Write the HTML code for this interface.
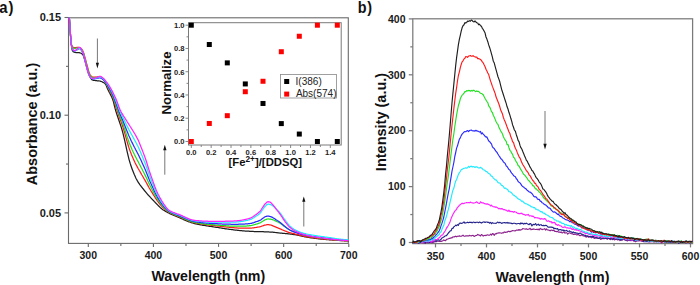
<!DOCTYPE html>
<html><head><meta charset="utf-8"><style>
html,body{margin:0;padding:0;background:#fff;width:700px;height:285px;overflow:hidden}
svg{display:block}
</style></head><body>
<svg width="700" height="285" viewBox="0 0 700 285">
<g stroke="#6a6a6a" stroke-width="1.1" fill="none">
<rect x="68.5" y="17.8" width="279.8" height="225.6"/>
<line x1="88.30" y1="243.4" x2="88.30" y2="246.9"/>
<line x1="153.42" y1="243.4" x2="153.42" y2="246.9"/>
<line x1="218.54" y1="243.4" x2="218.54" y2="246.9"/>
<line x1="283.66" y1="243.4" x2="283.66" y2="246.9"/>
<line x1="348.78" y1="243.4" x2="348.78" y2="246.9"/>
<line x1="120.86" y1="243.4" x2="120.86" y2="245.9"/>
<line x1="185.98" y1="243.4" x2="185.98" y2="245.9"/>
<line x1="251.10" y1="243.4" x2="251.10" y2="245.9"/>
<line x1="316.22" y1="243.4" x2="316.22" y2="245.9"/>
<line x1="64.5" y1="212.90" x2="68.5" y2="212.90"/>
<line x1="64.5" y1="115.20" x2="68.5" y2="115.20"/>
<line x1="64.5" y1="17.50" x2="68.5" y2="17.50"/>
<line x1="66.0" y1="164.05" x2="68.5" y2="164.05"/>
<line x1="66.0" y1="66.35" x2="68.5" y2="66.35"/>
</g>
<g font-family="&quot;Liberation Sans&quot;, sans-serif" font-weight="bold" font-size="10.5" fill="#1a1a1a" text-anchor="middle">
<text x="88.30" y="258.5">300</text>
<text x="153.42" y="258.5">400</text>
<text x="218.54" y="258.5">500</text>
<text x="283.66" y="258.5">600</text>
<text x="348.78" y="258.5">700</text>
</g>
<g font-family="&quot;Liberation Sans&quot;, sans-serif" font-weight="bold" font-size="11" fill="#1a1a1a" text-anchor="end">
<text x="61.1" y="216.70">0.05</text>
<text x="61.1" y="119.00">0.10</text>
<text x="61.1" y="21.30">0.15</text>
</g>
<text font-family="&quot;Liberation Sans&quot;, sans-serif" font-weight="bold" font-size="14.2" fill="#111" x="208.3" y="280.5" text-anchor="middle">Wavelength (nm)</text>
<text font-family="&quot;Liberation Sans&quot;, sans-serif" font-weight="bold" font-size="14.5" fill="#111" transform="translate(37,124) rotate(-90)" text-anchor="middle">Absorbance (a.u.)</text>
<text font-family="&quot;Liberation Sans&quot;, sans-serif" font-weight="bold" font-size="16" fill="#111" transform="translate(-0.7,13.0) scale(0.93,1.08)" letter-spacing="0.9">a)</text>
<text font-family="&quot;Liberation Sans&quot;, sans-serif" font-weight="bold" font-size="15.5" fill="#111" transform="translate(357.8,13.3) scale(0.93,1.05)" letter-spacing="0.6">b)</text>
<g fill="none" stroke-width="1.25" stroke-linejoin="round">
<path stroke="#1e1e1e" d="M69.3 17.5L69.5 19.8L69.6 22.0L69.8 24.3L69.9 26.5L70.1 28.8L70.2 31.0L70.4 33.2L70.5 35.5L70.7 37.7L70.8 39.7L71.0 41.5L71.1 42.9L71.3 44.2L71.4 45.3L71.6 46.3L71.7 47.3L71.9 48.3L72.0 49.2L72.2 49.9L72.3 50.3L72.5 50.6L72.6 50.8L72.8 51.0L72.9 51.3L73.1 51.4L73.2 51.6L73.4 51.7L73.5 51.8L73.7 51.9L73.8 52.0L74.0 52.1L74.1 52.1L74.3 52.2L74.4 52.2L74.6 52.3L74.7 52.3L74.9 52.3L75.0 52.4L75.0 52.4L75.6 52.5L76.2 52.5L76.8 52.5L77.4 52.5L78.0 52.6L78.6 52.6L79.2 52.6L79.8 52.8L80.4 53.0L81.0 53.3L81.6 53.6L82.2 54.1L82.8 54.7L83.4 55.8L84.0 57.5L84.6 59.6L85.2 61.7L85.8 63.7L86.4 65.9L87.0 68.0L87.6 70.1L88.2 72.2L88.8 74.0L89.4 75.4L90.0 76.7L90.6 77.9L91.2 78.9L91.8 79.6L92.4 79.9L93.0 80.1L93.6 80.3L94.2 80.4L94.8 80.5L95.4 80.6L96.0 80.6L96.6 80.7L97.2 80.8L97.8 80.8L98.4 80.9L99.0 80.9L99.6 81.0L100.2 81.1L100.8 81.3L101.4 81.5L102.0 81.8L102.6 82.1L103.2 82.4L103.8 82.7L104.4 83.0L105.0 83.5L105.6 84.3L106.2 85.5L106.8 86.9L107.4 88.4L108.0 89.8L108.6 91.0L109.2 92.2L109.8 93.3L110.4 94.4L111.0 95.6L111.6 96.8L112.2 98.2L112.8 99.7L113.4 101.6L114.0 104.0L114.6 106.5L115.2 108.9L115.8 111.0L116.4 112.9L117.0 114.7L117.6 116.5L118.2 118.2L118.8 120.0L119.4 121.8L120.0 123.5L120.6 125.3L121.2 127.1L121.8 129.0L122.4 131.1L123.0 133.4L123.6 135.8L124.2 138.3L124.8 140.9L125.4 143.6L126.0 146.4L126.6 149.1L127.2 151.8L127.8 154.4L128.4 156.9L129.0 159.3L129.6 161.4L130.2 163.4L130.8 165.2L131.4 167.0L132.0 168.7L132.6 170.3L133.2 171.8L133.8 173.3L134.4 174.8L135.0 176.1L135.6 177.5L136.2 178.7L136.8 179.8L137.4 180.9L138.0 181.9L138.6 182.8L139.2 183.7L139.8 184.6L140.4 185.4L141.0 186.2L141.6 187.0L142.2 187.7L142.8 188.5L143.4 189.2L144.0 190.0L144.6 190.7L145.2 191.5L145.8 192.2L146.4 192.9L147.0 193.6L147.6 194.3L148.2 195.0L148.8 195.6L149.4 196.3L150.0 196.9L150.6 197.6L151.2 198.2L151.8 198.9L152.4 199.5L153.0 200.1L153.6 200.7L154.2 201.4L154.8 202.0L155.4 202.6L156.0 203.3L156.6 203.9L157.2 204.5L157.8 205.1L158.4 205.7L159.0 206.3L159.6 206.9L160.2 207.5L160.8 208.0L161.4 208.5L162.0 209.0L162.6 209.4L163.2 209.9L163.8 210.3L164.4 210.6L165.0 211.0L165.6 211.4L166.2 211.7L166.8 212.0L167.4 212.4L168.0 212.7L168.6 213.0L169.2 213.3L169.8 213.6L170.4 213.9L171.0 214.2L171.6 214.4L172.2 214.7L172.8 215.0L173.4 215.2L174.0 215.5L174.6 215.7L175.2 216.0L175.8 216.2L176.4 216.5L177.0 216.7L177.6 217.0L178.2 217.2L178.8 217.5L179.4 217.7L180.0 218.0L180.6 218.3L181.2 218.5L181.8 218.8L182.4 219.0L183.0 219.3L183.6 219.6L184.2 219.8L184.8 220.1L185.4 220.3L186.0 220.6L186.6 220.8L187.2 221.1L187.8 221.3L188.4 221.6L189.0 221.8L189.6 222.0L190.2 222.2L190.8 222.4L191.4 222.7L192.0 222.9L192.6 223.0L193.2 223.2L193.8 223.4L194.4 223.6L195.0 223.7L195.6 223.8L196.2 224.0L196.8 224.1L197.4 224.2L198.0 224.4L198.6 224.5L199.2 224.6L199.8 224.7L200.4 224.8L201.0 224.9L201.6 225.0L202.2 225.2L202.8 225.3L203.4 225.4L204.0 225.4L204.6 225.5L205.2 225.6L205.8 225.7L206.4 225.8L207.0 225.9L207.6 226.0L208.2 226.1L208.8 226.2L209.4 226.3L210.0 226.4L210.6 226.4L211.2 226.5L211.8 226.6L212.4 226.7L213.0 226.8L213.6 226.9L214.2 227.0L214.8 227.1L215.4 227.2L216.0 227.3L216.6 227.4L217.2 227.4L217.8 227.5L218.4 227.6L219.0 227.7L219.6 227.8L220.2 227.9L220.8 228.0L221.4 228.1L222.0 228.2L222.6 228.3L223.2 228.4L223.8 228.5L224.4 228.6L225.0 228.7L225.6 228.8L226.2 228.9L226.8 228.9L227.4 229.0L228.0 229.1L228.6 229.2L229.2 229.3L229.8 229.4L230.4 229.4L231.0 229.5L231.6 229.6L232.2 229.7L232.8 229.7L233.4 229.8L234.0 229.9L234.6 230.0L235.2 230.0L235.8 230.1L236.4 230.1L237.0 230.2L237.6 230.3L238.2 230.3L238.8 230.4L239.4 230.5L240.0 230.5L240.6 230.6L241.2 230.6L241.8 230.7L242.4 230.8L243.0 230.8L243.6 230.9L244.2 230.9L244.8 231.0L245.4 231.0L246.0 231.1L246.6 231.1L247.2 231.1L247.8 231.2L248.4 231.2L249.0 231.2L249.6 231.3L250.2 231.3L250.8 231.3L251.4 231.4L252.0 231.4L252.6 231.4L253.2 231.4L253.8 231.5L254.4 231.5L255.0 231.5L255.6 231.5L256.2 231.5L256.8 231.6L257.4 231.6L258.0 231.6L258.6 231.6L259.2 231.6L259.8 231.6L260.4 231.7L261.0 231.7L261.6 231.7L262.2 231.7L262.8 231.7L263.4 231.7L264.0 231.8L264.6 231.8L265.2 231.8L265.8 231.8L266.4 231.8L267.0 231.9L267.6 231.9L268.2 231.9L268.8 231.9L269.4 232.0L270.0 232.0L270.6 232.0L271.2 232.1L271.8 232.1L272.4 232.2L273.0 232.2L273.6 232.3L274.2 232.4L274.8 232.4L275.4 232.5L276.0 232.6L276.6 232.6L277.2 232.7L277.8 232.8L278.4 232.8L279.0 232.9L279.6 233.0L280.2 233.0L280.8 233.1L281.4 233.1L282.0 233.2L282.6 233.3L283.2 233.3L283.8 233.4L284.4 233.4L285.0 233.5L285.6 233.5L286.2 233.6L286.8 233.7L287.4 233.7L288.0 233.8L288.6 233.8L289.2 233.9L289.8 234.0L290.4 234.0L291.0 234.1L291.6 234.2L292.2 234.3L292.8 234.4L293.4 234.5L294.0 234.5L294.6 234.6L295.2 234.7L295.8 234.8L296.4 235.0L297.0 235.1L297.6 235.2L298.2 235.3L298.8 235.5L299.4 235.6L300.0 235.7L300.6 235.9L301.2 236.0L301.8 236.1L302.4 236.3L303.0 236.4L303.6 236.5L304.2 236.7L304.8 236.8L305.4 236.9L306.0 237.0L306.6 237.1L307.2 237.2L307.8 237.3L308.4 237.4L309.0 237.5L309.6 237.6L310.2 237.7L310.8 237.8L311.4 237.9L312.0 237.9L312.6 238.0L313.2 238.1L313.8 238.2L314.4 238.3L315.0 238.4L315.6 238.4L316.2 238.5L316.8 238.6L317.4 238.6L318.0 238.7L318.6 238.8L319.2 238.8L319.8 238.9L320.4 239.0L321.0 239.0L321.6 239.1L322.2 239.1L322.8 239.2L323.4 239.3L324.0 239.3L324.6 239.4L325.2 239.4L325.8 239.5L326.4 239.5L327.0 239.6L327.6 239.6L328.2 239.7L328.8 239.7L329.4 239.8L330.0 239.8L330.6 239.8L331.2 239.9L331.8 239.9L332.4 240.0L333.0 240.0L333.6 240.1L334.2 240.1L334.8 240.2L335.4 240.2L336.0 240.2L336.6 240.3L337.2 240.3L337.8 240.4L338.4 240.4L339.0 240.4L339.6 240.5L340.2 240.5L340.8 240.6L341.4 240.6L342.0 240.6L342.6 240.7L343.2 240.7L343.8 240.7L344.4 240.8L345.0 240.8L345.6 240.8L346.2 240.9L346.8 240.9L347.4 240.9L348.0 241.0L348.5 241.0"/>
<path stroke="#ff1a1a" d="M69.3 17.5L69.5 19.8L69.6 22.0L69.8 24.3L69.9 26.5L70.1 28.8L70.2 31.0L70.4 33.2L70.5 35.3L70.7 37.4L70.8 39.3L71.0 41.1L71.1 42.5L71.3 43.4L71.4 44.2L71.6 44.8L71.7 45.2L71.9 45.6L72.0 45.9L72.2 46.2L72.3 46.4L72.5 46.7L72.6 46.8L72.8 47.0L72.9 47.1L73.1 47.2L73.2 47.3L73.4 47.4L73.5 47.5L73.7 47.5L73.8 47.6L74.0 47.6L74.1 47.6L74.3 47.6L74.4 47.6L74.6 47.6L74.7 47.6L74.9 47.6L75.0 47.6L75.0 47.6L75.6 47.5L76.2 47.5L76.8 47.4L77.4 47.3L78.0 47.3L78.6 47.4L79.2 47.5L79.8 47.7L80.4 48.0L81.0 48.4L81.6 49.0L82.2 49.8L82.8 50.9L83.4 52.3L84.0 54.0L84.6 56.1L85.2 58.2L85.8 60.5L86.4 62.8L87.0 65.0L87.6 67.2L88.2 69.5L88.8 71.6L89.4 73.3L90.0 74.5L90.6 75.5L91.2 76.2L91.8 76.6L92.4 76.9L93.0 77.0L93.6 77.0L94.2 77.0L94.8 77.0L95.4 77.0L96.0 77.0L96.6 77.0L97.2 77.0L97.8 76.9L98.4 76.8L99.0 76.7L99.6 76.6L100.2 76.6L100.8 76.9L101.4 77.3L102.0 77.8L102.6 78.4L103.2 79.0L103.8 79.8L104.4 80.6L105.0 81.4L105.6 82.5L106.2 83.7L106.8 85.0L107.4 86.4L108.0 87.6L108.6 88.7L109.2 89.8L109.8 90.9L110.4 92.1L111.0 93.2L111.6 94.5L112.2 95.8L112.8 97.2L113.4 98.9L114.0 100.8L114.6 102.9L115.2 105.0L115.8 106.9L116.4 108.6L117.0 110.3L117.6 112.0L118.2 113.8L118.8 115.5L119.4 117.3L120.0 118.9L120.6 120.5L121.2 122.1L121.8 123.7L122.4 125.5L123.0 127.3L123.6 129.3L124.2 131.3L124.8 133.3L125.4 135.5L126.0 137.7L126.6 139.8L127.2 141.9L127.8 144.0L128.4 146.0L129.0 147.9L129.6 149.6L130.2 151.3L130.8 152.8L131.4 154.4L132.0 155.8L132.6 157.2L133.2 158.6L133.8 159.9L134.4 161.2L135.0 162.5L135.6 163.7L136.2 164.9L136.8 166.0L137.4 167.1L138.0 168.2L138.6 169.2L139.2 170.3L139.8 171.3L140.4 172.4L141.0 173.4L141.6 174.5L142.2 175.5L142.8 176.5L143.4 177.5L144.0 178.6L144.6 179.6L145.2 180.6L145.8 181.7L146.4 182.8L147.0 183.9L147.6 185.0L148.2 186.1L148.8 187.2L149.4 188.2L150.0 189.2L150.6 190.2L151.2 191.2L151.8 192.2L152.4 193.1L153.0 194.1L153.6 195.1L154.2 196.0L154.8 197.0L155.4 197.9L156.0 198.9L156.6 199.7L157.2 200.6L157.8 201.4L158.4 202.2L159.0 203.0L159.6 203.7L160.2 204.5L160.8 205.2L161.4 205.9L162.0 206.5L162.6 207.1L163.2 207.7L163.8 208.3L164.4 208.8L165.0 209.4L165.6 209.9L166.2 210.3L166.8 210.8L167.4 211.3L168.0 211.7L168.6 212.1L169.2 212.4L169.8 212.7L170.4 213.0L171.0 213.3L171.6 213.6L172.2 213.9L172.8 214.2L173.4 214.4L174.0 214.7L174.6 214.9L175.2 215.2L175.8 215.4L176.4 215.7L177.0 215.9L177.6 216.1L178.2 216.4L178.8 216.6L179.4 216.9L180.0 217.1L180.6 217.4L181.2 217.6L181.8 217.9L182.4 218.2L183.0 218.4L183.6 218.7L184.2 219.0L184.8 219.2L185.4 219.5L186.0 219.8L186.6 220.0L187.2 220.3L187.8 220.5L188.4 220.8L189.0 221.0L189.6 221.2L190.2 221.4L190.8 221.7L191.4 221.9L192.0 222.1L192.6 222.2L193.2 222.4L193.8 222.6L194.4 222.7L195.0 222.8L195.6 223.0L196.2 223.1L196.8 223.2L197.4 223.3L198.0 223.4L198.6 223.5L199.2 223.6L199.8 223.7L200.4 223.8L201.0 223.9L201.6 224.0L202.2 224.1L202.8 224.2L203.4 224.3L204.0 224.4L204.6 224.4L205.2 224.5L205.8 224.6L206.4 224.7L207.0 224.7L207.6 224.8L208.2 224.9L208.8 225.0L209.4 225.0L210.0 225.1L210.6 225.2L211.2 225.3L211.8 225.3L212.4 225.4L213.0 225.5L213.6 225.5L214.2 225.6L214.8 225.7L215.4 225.7L216.0 225.8L216.6 225.9L217.2 226.0L217.8 226.0L218.4 226.1L219.0 226.2L219.6 226.2L220.2 226.3L220.8 226.4L221.4 226.5L222.0 226.5L222.6 226.6L223.2 226.7L223.8 226.7L224.4 226.8L225.0 226.9L225.6 226.9L226.2 227.0L226.8 227.1L227.4 227.1L228.0 227.2L228.6 227.2L229.2 227.3L229.8 227.4L230.4 227.4L231.0 227.5L231.6 227.5L232.2 227.6L232.8 227.6L233.4 227.7L234.0 227.7L234.6 227.8L235.2 227.8L235.8 227.9L236.4 227.9L237.0 227.9L237.6 228.0L238.2 228.0L238.8 228.0L239.4 228.1L240.0 228.1L240.6 228.1L241.2 228.1L241.8 228.2L242.4 228.2L243.0 228.2L243.6 228.2L244.2 228.2L244.8 228.2L245.4 228.2L246.0 228.2L246.6 228.2L247.2 228.2L247.8 228.2L248.4 228.2L249.0 228.2L249.6 228.2L250.2 228.1L250.8 228.1L251.4 228.1L252.0 228.0L252.6 227.9L253.2 227.9L253.8 227.8L254.4 227.7L255.0 227.6L255.6 227.5L256.2 227.4L256.8 227.3L257.4 227.2L258.0 227.1L258.6 227.0L259.2 226.9L259.8 226.8L260.4 226.7L261.0 226.5L261.6 226.2L262.2 226.0L262.8 225.8L263.4 225.6L264.0 225.4L264.6 225.2L265.2 225.1L265.8 225.0L266.4 224.8L267.0 224.7L267.6 224.7L268.2 224.7L268.8 224.7L269.4 224.8L270.0 224.8L270.6 225.0L271.2 225.2L271.8 225.4L272.4 225.6L273.0 225.9L273.6 226.1L274.2 226.4L274.8 226.6L275.4 226.9L276.0 227.2L276.6 227.4L277.2 227.7L277.8 227.9L278.4 228.2L279.0 228.4L279.6 228.7L280.2 228.9L280.8 229.2L281.4 229.4L282.0 229.7L282.6 230.0L283.2 230.2L283.8 230.5L284.4 230.7L285.0 231.0L285.6 231.2L286.2 231.4L286.8 231.6L287.4 231.9L288.0 232.1L288.6 232.3L289.2 232.5L289.8 232.6L290.4 232.8L291.0 233.0L291.6 233.1L292.2 233.3L292.8 233.4L293.4 233.6L294.0 233.7L294.6 233.8L295.2 234.0L295.8 234.1L296.4 234.3L297.0 234.4L297.6 234.6L298.2 234.7L298.8 234.9L299.4 235.1L300.0 235.2L300.6 235.4L301.2 235.5L301.8 235.7L302.4 235.8L303.0 236.0L303.6 236.1L304.2 236.2L304.8 236.3L305.4 236.4L306.0 236.6L306.6 236.7L307.2 236.8L307.8 236.9L308.4 237.0L309.0 237.1L309.6 237.2L310.2 237.3L310.8 237.4L311.4 237.5L312.0 237.6L312.6 237.7L313.2 237.7L313.8 237.8L314.4 237.9L315.0 238.0L315.6 238.1L316.2 238.2L316.8 238.2L317.4 238.3L318.0 238.4L318.6 238.4L319.2 238.5L319.8 238.6L320.4 238.6L321.0 238.7L321.6 238.8L322.2 238.8L322.8 238.9L323.4 239.0L324.0 239.0L324.6 239.1L325.2 239.1L325.8 239.2L326.4 239.2L327.0 239.3L327.6 239.3L328.2 239.4L328.8 239.5L329.4 239.5L330.0 239.6L330.6 239.6L331.2 239.7L331.8 239.7L332.4 239.8L333.0 239.8L333.6 239.9L334.2 239.9L334.8 240.0L335.4 240.0L336.0 240.1L336.6 240.1L337.2 240.2L337.8 240.2L338.4 240.3L339.0 240.3L339.6 240.3L340.2 240.4L340.8 240.4L341.4 240.5L342.0 240.5L342.6 240.5L343.2 240.6L343.8 240.6L344.4 240.7L345.0 240.7L345.6 240.7L346.2 240.8L346.8 240.8L347.4 240.8L348.0 240.9L348.5 240.9"/>
<path stroke="#22e022" d="M69.3 17.5L69.5 19.8L69.6 22.0L69.8 24.3L69.9 26.5L70.1 28.8L70.2 31.0L70.4 33.2L70.5 35.3L70.7 37.3L70.8 39.3L71.0 41.3L71.1 42.8L71.3 43.8L71.4 44.5L71.6 45.2L71.7 45.7L71.9 46.1L72.0 46.5L72.2 46.8L72.3 47.1L72.5 47.4L72.6 47.6L72.8 47.8L72.9 47.9L73.1 48.0L73.2 48.1L73.4 48.2L73.5 48.3L73.7 48.3L73.8 48.4L74.0 48.4L74.1 48.4L74.3 48.4L74.4 48.4L74.6 48.4L74.7 48.4L74.9 48.4L75.0 48.3L75.0 48.3L75.6 48.3L76.2 48.2L76.8 48.0L77.4 47.9L78.0 47.8L78.6 47.8L79.2 48.0L79.8 48.1L80.4 48.4L81.0 48.9L81.6 49.5L82.2 50.3L82.8 51.4L83.4 52.9L84.0 54.8L84.6 57.1L85.2 59.5L85.8 61.8L86.4 64.2L87.0 66.6L87.6 68.7L88.2 70.8L88.8 72.8L89.4 74.3L90.0 75.4L90.6 76.3L91.2 76.9L91.8 77.3L92.4 77.5L93.0 77.6L93.6 77.6L94.2 77.5L94.8 77.5L95.4 77.4L96.0 77.4L96.6 77.3L97.2 77.2L97.8 77.1L98.4 77.0L99.0 76.9L99.6 76.8L100.2 76.8L100.8 77.1L101.4 77.5L102.0 77.9L102.6 78.5L103.2 79.0L103.8 79.7L104.4 80.5L105.0 81.4L105.6 82.3L106.2 83.4L106.8 84.6L107.4 85.8L108.0 86.9L108.6 88.0L109.2 89.0L109.8 90.0L110.4 91.1L111.0 92.2L111.6 93.4L112.2 94.7L112.8 96.0L113.4 97.5L114.0 99.3L114.6 101.2L115.2 103.1L115.8 104.8L116.4 106.5L117.0 108.1L117.6 109.8L118.2 111.5L118.8 113.3L119.4 115.0L120.0 116.5L120.6 118.0L121.2 119.5L121.8 121.0L122.4 122.6L123.0 124.3L123.6 126.0L124.2 127.7L124.8 129.5L125.4 131.3L126.0 133.2L126.6 135.1L127.2 136.9L127.8 138.7L128.4 140.5L129.0 142.2L129.6 143.7L130.2 145.2L130.8 146.6L131.4 148.0L132.0 149.4L132.6 150.7L133.2 152.0L133.8 153.2L134.4 154.5L135.0 155.7L135.6 156.9L136.2 158.0L136.8 159.2L137.4 160.3L138.0 161.4L138.6 162.5L139.2 163.7L139.8 164.8L140.4 166.0L141.0 167.2L141.6 168.3L142.2 169.5L142.8 170.7L143.4 171.8L144.0 173.0L144.6 174.2L145.2 175.4L145.8 176.6L146.4 177.8L147.0 179.1L147.6 180.5L148.2 181.8L148.8 183.1L149.4 184.3L150.0 185.5L150.6 186.7L151.2 187.8L151.8 189.0L152.4 190.1L153.0 191.2L153.6 192.4L154.2 193.5L154.8 194.6L155.4 195.7L156.0 196.8L156.6 197.8L157.2 198.7L157.8 199.6L158.4 200.5L159.0 201.4L159.6 202.2L160.2 203.1L160.8 203.9L161.4 204.6L162.0 205.4L162.6 206.1L163.2 206.8L163.8 207.4L164.4 208.0L165.0 208.6L165.6 209.2L166.2 209.7L166.8 210.3L167.4 210.8L168.0 211.2L168.6 211.6L169.2 212.0L169.8 212.3L170.4 212.6L171.0 212.9L171.6 213.2L172.2 213.5L172.8 213.8L173.4 214.0L174.0 214.3L174.6 214.6L175.2 214.8L175.8 215.0L176.4 215.3L177.0 215.5L177.6 215.8L178.2 216.0L178.8 216.2L179.4 216.5L180.0 216.7L180.6 217.0L181.2 217.2L181.8 217.5L182.4 217.8L183.0 218.0L183.6 218.3L184.2 218.6L184.8 218.9L185.4 219.1L186.0 219.4L186.6 219.7L187.2 219.9L187.8 220.2L188.4 220.4L189.0 220.7L189.6 220.9L190.2 221.1L190.8 221.3L191.4 221.5L192.0 221.7L192.6 221.9L193.2 222.1L193.8 222.2L194.4 222.4L195.0 222.5L195.6 222.6L196.2 222.7L196.8 222.8L197.4 222.9L198.0 223.0L198.6 223.1L199.2 223.2L199.8 223.3L200.4 223.4L201.0 223.5L201.6 223.6L202.2 223.7L202.8 223.7L203.4 223.8L204.0 223.9L204.6 224.0L205.2 224.0L205.8 224.1L206.4 224.1L207.0 224.2L207.6 224.3L208.2 224.3L208.8 224.4L209.4 224.4L210.0 224.5L210.6 224.5L211.2 224.6L211.8 224.7L212.4 224.7L213.0 224.8L213.6 224.8L214.2 224.9L214.8 224.9L215.4 225.0L216.0 225.0L216.6 225.1L217.2 225.1L217.8 225.2L218.4 225.2L219.0 225.3L219.6 225.3L220.2 225.4L220.8 225.4L221.4 225.5L222.0 225.5L222.6 225.5L223.2 225.6L223.8 225.6L224.4 225.7L225.0 225.7L225.6 225.7L226.2 225.8L226.8 225.8L227.4 225.9L228.0 225.9L228.6 225.9L229.2 226.0L229.8 226.0L230.4 226.0L231.0 226.0L231.6 226.1L232.2 226.1L232.8 226.1L233.4 226.1L234.0 226.2L234.6 226.2L235.2 226.2L235.8 226.2L236.4 226.2L237.0 226.2L237.6 226.2L238.2 226.2L238.8 226.2L239.4 226.2L240.0 226.2L240.6 226.2L241.2 226.2L241.8 226.2L242.4 226.1L243.0 226.1L243.6 226.1L244.2 226.1L244.8 226.1L245.4 226.0L246.0 226.0L246.6 226.0L247.2 225.9L247.8 225.9L248.4 225.8L249.0 225.8L249.6 225.7L250.2 225.6L250.8 225.6L251.4 225.5L252.0 225.3L252.6 225.2L253.2 225.0L253.8 224.8L254.4 224.7L255.0 224.5L255.6 224.3L256.2 224.1L256.8 224.0L257.4 223.8L258.0 223.6L258.6 223.4L259.2 223.2L259.8 223.0L260.4 222.7L261.0 222.3L261.6 221.9L262.2 221.5L262.8 221.2L263.4 220.8L264.0 220.4L264.6 220.1L265.2 219.8L265.8 219.5L266.4 219.3L267.0 219.1L267.6 219.0L268.2 218.9L268.8 219.0L269.4 219.0L270.0 219.1L270.6 219.2L271.2 219.3L271.8 219.4L272.4 219.6L273.0 219.8L273.6 220.0L274.2 220.3L274.8 220.6L275.4 220.9L276.0 221.2L276.6 221.4L277.2 221.7L277.8 222.0L278.4 222.3L279.0 222.6L279.6 223.0L280.2 223.3L280.8 223.7L281.4 224.1L282.0 224.6L282.6 225.0L283.2 225.5L283.8 225.9L284.4 226.4L285.0 226.8L285.6 227.2L286.2 227.6L286.8 228.1L287.4 228.5L288.0 228.9L288.6 229.3L289.2 229.7L289.8 230.0L290.4 230.3L291.0 230.5L291.6 230.8L292.2 231.0L292.8 231.3L293.4 231.5L294.0 231.7L294.6 231.9L295.2 232.1L295.8 232.3L296.4 232.5L297.0 232.7L297.6 232.9L298.2 233.1L298.8 233.3L299.4 233.5L300.0 233.7L300.6 233.9L301.2 234.1L301.8 234.3L302.4 234.5L303.0 234.7L303.6 234.8L304.2 235.0L304.8 235.2L305.4 235.3L306.0 235.5L306.6 235.6L307.2 235.7L307.8 235.9L308.4 236.0L309.0 236.1L309.6 236.2L310.2 236.3L310.8 236.5L311.4 236.6L312.0 236.7L312.6 236.8L313.2 236.9L313.8 237.0L314.4 237.1L315.0 237.2L315.6 237.3L316.2 237.4L316.8 237.5L317.4 237.5L318.0 237.6L318.6 237.7L319.2 237.8L319.8 237.9L320.4 238.0L321.0 238.0L321.6 238.1L322.2 238.2L322.8 238.3L323.4 238.3L324.0 238.4L324.6 238.5L325.2 238.5L325.8 238.6L326.4 238.7L327.0 238.7L327.6 238.8L328.2 238.9L328.8 238.9L329.4 239.0L330.0 239.1L330.6 239.1L331.2 239.2L331.8 239.3L332.4 239.3L333.0 239.4L333.6 239.5L334.2 239.5L334.8 239.6L335.4 239.7L336.0 239.7L336.6 239.8L337.2 239.9L337.8 239.9L338.4 240.0L339.0 240.0L339.6 240.1L340.2 240.1L340.8 240.2L341.4 240.2L342.0 240.3L342.6 240.3L343.2 240.3L343.8 240.4L344.4 240.4L345.0 240.5L345.6 240.5L346.2 240.5L346.8 240.6L347.4 240.6L348.0 240.7L348.5 240.7"/>
<path stroke="#2a2aff" d="M69.3 17.5L69.5 19.8L69.6 22.0L69.8 24.3L69.9 26.5L70.1 28.8L70.2 31.0L70.4 33.2L70.5 35.3L70.7 37.4L70.8 39.4L71.0 41.4L71.1 43.0L71.3 44.1L71.4 45.1L71.6 45.9L71.7 46.7L71.9 47.4L72.0 47.9L72.2 48.4L72.3 48.7L72.5 49.1L72.6 49.4L72.8 49.6L72.9 49.9L73.1 50.1L73.2 50.3L73.4 50.5L73.5 50.7L73.7 50.8L73.8 50.8L74.0 50.9L74.1 50.9L74.3 50.9L74.4 50.9L74.6 50.9L74.7 50.9L74.9 50.9L75.0 50.9L75.0 50.9L75.6 50.7L76.2 50.5L76.8 50.1L77.4 49.6L78.0 49.1L78.6 48.9L79.2 48.7L79.8 48.7L80.4 49.1L81.0 49.7L81.6 50.7L82.2 51.8L82.8 52.9L83.4 54.3L84.0 56.3L84.6 58.7L85.2 61.1L85.8 63.5L86.4 66.0L87.0 68.4L87.6 70.5L88.2 72.5L88.8 74.3L89.4 75.7L90.0 76.7L90.6 77.6L91.2 78.2L91.8 78.6L92.4 78.8L93.0 78.9L93.6 78.9L94.2 78.9L94.8 78.8L95.4 78.7L96.0 78.6L96.6 78.5L97.2 78.4L97.8 78.2L98.4 78.1L99.0 78.0L99.6 77.9L100.2 77.9L100.8 78.1L101.4 78.4L102.0 78.8L102.6 79.2L103.2 79.6L103.8 80.1L104.4 80.7L105.0 81.3L105.6 82.1L106.2 83.0L106.8 84.0L107.4 85.0L108.0 86.1L108.6 87.1L109.2 88.1L109.8 89.1L110.4 90.2L111.0 91.3L111.6 92.5L112.2 93.7L112.8 94.9L113.4 96.3L114.0 97.9L114.6 99.6L115.2 101.3L115.8 102.8L116.4 104.4L117.0 105.9L117.6 107.6L118.2 109.2L118.8 110.9L119.4 112.5L120.0 114.0L120.6 115.4L121.2 116.8L121.8 118.2L122.4 119.6L123.0 121.0L123.6 122.4L124.2 123.9L124.8 125.4L125.4 126.9L126.0 128.5L126.6 130.1L127.2 131.6L127.8 133.1L128.4 134.6L129.0 136.0L129.6 137.3L130.2 138.6L130.8 139.9L131.4 141.2L132.0 142.4L132.6 143.6L133.2 144.8L133.8 146.0L134.4 147.2L135.0 148.3L135.6 149.5L136.2 150.6L136.8 151.7L137.4 152.9L138.0 154.0L138.6 155.2L139.2 156.4L139.8 157.7L140.4 159.0L141.0 160.3L141.6 161.6L142.2 162.9L142.8 164.2L143.4 165.5L144.0 166.8L144.6 168.2L145.2 169.5L145.8 170.9L146.4 172.4L147.0 173.9L147.6 175.5L148.2 177.0L148.8 178.5L149.4 180.0L150.0 181.4L150.6 182.7L151.2 184.1L151.8 185.4L152.4 186.7L153.0 188.0L153.6 189.3L154.2 190.7L154.8 192.0L155.4 193.2L156.0 194.4L156.6 195.5L157.2 196.6L157.8 197.6L158.4 198.6L159.0 199.6L159.6 200.5L160.2 201.5L160.8 202.3L161.4 203.2L162.0 204.0L162.6 204.8L163.2 205.6L163.8 206.3L164.4 207.0L165.0 207.6L165.6 208.3L166.2 208.9L166.8 209.5L167.4 210.1L168.0 210.6L168.6 211.1L169.2 211.4L169.8 211.8L170.4 212.1L171.0 212.4L171.6 212.7L172.2 213.0L172.8 213.3L173.4 213.5L174.0 213.8L174.6 214.0L175.2 214.2L175.8 214.5L176.4 214.7L177.0 214.9L177.6 215.1L178.2 215.4L178.8 215.6L179.4 215.8L180.0 216.1L180.6 216.3L181.2 216.6L181.8 216.8L182.4 217.1L183.0 217.4L183.6 217.7L184.2 217.9L184.8 218.2L185.4 218.5L186.0 218.7L186.6 219.0L187.2 219.3L187.8 219.5L188.4 219.7L189.0 220.0L189.6 220.2L190.2 220.4L190.8 220.6L191.4 220.8L192.0 221.0L192.6 221.2L193.2 221.3L193.8 221.5L194.4 221.6L195.0 221.7L195.6 221.8L196.2 221.9L196.8 222.0L197.4 222.1L198.0 222.1L198.6 222.2L199.2 222.3L199.8 222.4L200.4 222.4L201.0 222.5L201.6 222.6L202.2 222.6L202.8 222.7L203.4 222.8L204.0 222.8L204.6 222.9L205.2 222.9L205.8 223.0L206.4 223.0L207.0 223.1L207.6 223.1L208.2 223.2L208.8 223.2L209.4 223.3L210.0 223.3L210.6 223.3L211.2 223.4L211.8 223.4L212.4 223.5L213.0 223.5L213.6 223.5L214.2 223.6L214.8 223.6L215.4 223.6L216.0 223.7L216.6 223.7L217.2 223.7L217.8 223.8L218.4 223.8L219.0 223.8L219.6 223.9L220.2 223.9L220.8 223.9L221.4 223.9L222.0 224.0L222.6 224.0L223.2 224.0L223.8 224.0L224.4 224.1L225.0 224.1L225.6 224.1L226.2 224.1L226.8 224.1L227.4 224.2L228.0 224.2L228.6 224.2L229.2 224.2L229.8 224.2L230.4 224.2L231.0 224.3L231.6 224.3L232.2 224.3L232.8 224.3L233.4 224.3L234.0 224.3L234.6 224.3L235.2 224.3L235.8 224.3L236.4 224.3L237.0 224.3L237.6 224.3L238.2 224.3L238.8 224.2L239.4 224.2L240.0 224.2L240.6 224.2L241.2 224.1L241.8 224.1L242.4 224.1L243.0 224.1L243.6 224.0L244.2 224.0L244.8 224.0L245.4 223.9L246.0 223.9L246.6 223.9L247.2 223.8L247.8 223.8L248.4 223.7L249.0 223.6L249.6 223.6L250.2 223.5L250.8 223.4L251.4 223.3L252.0 223.1L252.6 222.9L253.2 222.8L253.8 222.6L254.4 222.3L255.0 222.1L255.6 221.9L256.2 221.7L256.8 221.5L257.4 221.4L258.0 221.1L258.6 220.9L259.2 220.7L259.8 220.4L260.4 220.1L261.0 219.7L261.6 219.2L262.2 218.7L262.8 218.3L263.4 217.9L264.0 217.5L264.6 217.1L265.2 216.7L265.8 216.5L266.4 216.3L267.0 216.1L267.6 216.0L268.2 216.0L268.8 216.1L269.4 216.3L270.0 216.5L270.6 216.6L271.2 216.8L271.8 217.1L272.4 217.4L273.0 217.7L273.6 218.1L274.2 218.4L274.8 218.8L275.4 219.2L276.0 219.7L276.6 220.1L277.2 220.5L277.8 220.8L278.4 221.2L279.0 221.6L279.6 222.1L280.2 222.5L280.8 223.0L281.4 223.5L282.0 224.0L282.6 224.5L283.2 225.0L283.8 225.6L284.4 226.1L285.0 226.5L285.6 227.0L286.2 227.5L286.8 227.9L287.4 228.4L288.0 228.8L288.6 229.2L289.2 229.6L289.8 230.0L290.4 230.3L291.0 230.6L291.6 230.9L292.2 231.1L292.8 231.4L293.4 231.6L294.0 231.9L294.6 232.1L295.2 232.3L295.8 232.5L296.4 232.7L297.0 232.9L297.6 233.1L298.2 233.3L298.8 233.5L299.4 233.7L300.0 233.9L300.6 234.1L301.2 234.3L301.8 234.4L302.4 234.6L303.0 234.7L303.6 234.9L304.2 235.0L304.8 235.1L305.4 235.2L306.0 235.4L306.6 235.5L307.2 235.6L307.8 235.7L308.4 235.8L309.0 235.9L309.6 236.0L310.2 236.1L310.8 236.2L311.4 236.3L312.0 236.4L312.6 236.5L313.2 236.6L313.8 236.6L314.4 236.7L315.0 236.8L315.6 236.9L316.2 237.0L316.8 237.0L317.4 237.1L318.0 237.2L318.6 237.3L319.2 237.4L319.8 237.5L320.4 237.6L321.0 237.6L321.6 237.7L322.2 237.8L322.8 237.9L323.4 237.9L324.0 238.0L324.6 238.1L325.2 238.2L325.8 238.2L326.4 238.3L327.0 238.4L327.6 238.4L328.2 238.5L328.8 238.6L329.4 238.7L330.0 238.7L330.6 238.8L331.2 238.9L331.8 239.0L332.4 239.0L333.0 239.1L333.6 239.2L334.2 239.3L334.8 239.3L335.4 239.4L336.0 239.5L336.6 239.5L337.2 239.6L337.8 239.7L338.4 239.7L339.0 239.8L339.6 239.8L340.2 239.9L340.8 239.9L341.4 240.0L342.0 240.0L342.6 240.1L343.2 240.1L343.8 240.2L344.4 240.2L345.0 240.3L345.6 240.3L346.2 240.3L346.8 240.4L347.4 240.4L348.0 240.5L348.5 240.5"/>
<path stroke="#20eaff" d="M69.3 17.5L69.5 19.8L69.6 22.0L69.8 24.3L69.9 26.5L70.1 28.8L70.2 31.0L70.4 33.2L70.5 35.3L70.7 37.4L70.8 39.4L71.0 41.4L71.1 43.0L71.3 44.1L71.4 45.0L71.6 45.9L71.7 46.6L71.9 47.2L72.0 47.8L72.2 48.2L72.3 48.5L72.5 48.9L72.6 49.2L72.8 49.5L72.9 49.7L73.1 50.0L73.2 50.2L73.4 50.4L73.5 50.5L73.7 50.6L73.8 50.7L74.0 50.7L74.1 50.7L74.3 50.7L74.4 50.7L74.6 50.7L74.7 50.7L74.9 50.7L75.0 50.7L75.0 50.7L75.6 50.5L76.2 50.3L76.8 49.8L77.4 49.2L78.0 48.7L78.6 48.4L79.2 48.1L79.8 48.2L80.4 48.6L81.0 49.2L81.6 50.2L82.2 51.4L82.8 52.6L83.4 54.0L84.0 56.0L84.6 58.5L85.2 61.0L85.8 63.5L86.4 66.1L87.0 68.5L87.6 70.6L88.2 72.6L88.8 74.4L89.4 75.8L90.0 76.7L90.6 77.5L91.2 78.1L91.8 78.4L92.4 78.6L93.0 78.7L93.6 78.6L94.2 78.6L94.8 78.5L95.4 78.3L96.0 78.2L96.6 78.0L97.2 77.9L97.8 77.6L98.4 77.4L99.0 77.2L99.6 77.1L100.2 77.1L100.8 77.3L101.4 77.5L102.0 77.9L102.6 78.3L103.2 78.7L103.8 79.2L104.4 79.9L105.0 80.5L105.6 81.2L106.2 82.0L106.8 82.9L107.4 83.8L108.0 84.7L108.6 85.7L109.2 86.7L109.8 87.7L110.4 88.7L111.0 89.8L111.6 90.9L112.2 92.1L112.8 93.3L113.4 94.6L114.0 96.0L114.6 97.4L115.2 98.9L115.8 100.4L116.4 101.8L117.0 103.3L117.6 105.0L118.2 106.7L118.8 108.4L119.4 110.0L120.0 111.5L120.6 112.8L121.2 114.1L121.8 115.3L122.4 116.5L123.0 117.7L123.6 118.9L124.2 120.1L124.8 121.3L125.4 122.5L126.0 123.7L126.6 125.0L127.2 126.2L127.8 127.4L128.4 128.6L129.0 129.8L129.6 130.9L130.2 132.0L130.8 133.1L131.4 134.2L132.0 135.3L132.6 136.4L133.2 137.5L133.8 138.6L134.4 139.7L135.0 140.8L135.6 141.9L136.2 143.0L136.8 144.1L137.4 145.3L138.0 146.4L138.6 147.7L139.2 149.0L139.8 150.4L140.4 151.8L141.0 153.2L141.6 154.7L142.2 156.1L142.8 157.6L143.4 159.0L144.0 160.5L144.6 162.0L145.2 163.5L145.8 165.1L146.4 166.7L147.0 168.5L147.6 170.3L148.2 172.1L148.8 173.8L149.4 175.5L150.0 177.0L150.6 178.6L151.2 180.1L151.8 181.6L152.4 183.1L153.0 184.6L153.6 186.2L154.2 187.7L154.8 189.2L155.4 190.6L156.0 192.0L156.6 193.2L157.2 194.4L157.8 195.5L158.4 196.7L159.0 197.7L159.6 198.8L160.2 199.8L160.8 200.7L161.4 201.7L162.0 202.6L162.6 203.5L163.2 204.3L163.8 205.1L164.4 205.9L165.0 206.6L165.6 207.4L166.2 208.1L166.8 208.8L167.4 209.4L168.0 210.0L168.6 210.5L169.2 210.8L169.8 211.2L170.4 211.5L171.0 211.9L171.6 212.2L172.2 212.4L172.8 212.7L173.4 212.9L174.0 213.2L174.6 213.4L175.2 213.6L175.8 213.9L176.4 214.1L177.0 214.3L177.6 214.5L178.2 214.7L178.8 214.9L179.4 215.2L180.0 215.4L180.6 215.7L181.2 215.9L181.8 216.2L182.4 216.4L183.0 216.7L183.6 217.0L184.2 217.2L184.8 217.5L185.4 217.8L186.0 218.0L186.6 218.3L187.2 218.6L187.8 218.8L188.4 219.1L189.0 219.3L189.6 219.5L190.2 219.7L190.8 220.0L191.4 220.1L192.0 220.3L192.6 220.5L193.2 220.6L193.8 220.7L194.4 220.8L195.0 220.9L195.6 221.0L196.2 221.0L196.8 221.1L197.4 221.2L198.0 221.2L198.6 221.3L199.2 221.3L199.8 221.4L200.4 221.4L201.0 221.5L201.6 221.5L202.2 221.6L202.8 221.6L203.4 221.7L204.0 221.7L204.6 221.8L205.2 221.8L205.8 221.8L206.4 221.9L207.0 221.9L207.6 221.9L208.2 222.0L208.8 222.0L209.4 222.0L210.0 222.0L210.6 222.1L211.2 222.1L211.8 222.1L212.4 222.1L213.0 222.1L213.6 222.2L214.2 222.2L214.8 222.2L215.4 222.2L216.0 222.2L216.6 222.2L217.2 222.2L217.8 222.2L218.4 222.2L219.0 222.2L219.6 222.2L220.2 222.2L220.8 222.2L221.4 222.2L222.0 222.2L222.6 222.2L223.2 222.2L223.8 222.2L224.4 222.2L225.0 222.2L225.6 222.2L226.2 222.2L226.8 222.2L227.4 222.2L228.0 222.2L228.6 222.2L229.2 222.2L229.8 222.2L230.4 222.2L231.0 222.1L231.6 222.1L232.2 222.1L232.8 222.1L233.4 222.1L234.0 222.1L234.6 222.0L235.2 222.0L235.8 222.0L236.4 222.0L237.0 221.9L237.6 221.9L238.2 221.8L238.8 221.8L239.4 221.7L240.0 221.6L240.6 221.6L241.2 221.5L241.8 221.4L242.4 221.3L243.0 221.2L243.6 221.1L244.2 221.0L244.8 220.9L245.4 220.7L246.0 220.6L246.6 220.5L247.2 220.3L247.8 220.2L248.4 220.0L249.0 219.9L249.6 219.7L250.2 219.5L250.8 219.3L251.4 219.1L252.0 218.8L252.6 218.4L253.2 218.0L253.8 217.7L254.4 217.3L255.0 216.8L255.6 216.4L256.2 216.0L256.8 215.7L257.4 215.3L258.0 214.9L258.6 214.4L259.2 213.9L259.8 213.4L260.4 212.8L261.0 212.0L261.6 211.1L262.2 210.2L262.8 209.4L263.4 208.5L264.0 207.7L264.6 206.9L265.2 206.2L265.8 205.7L266.4 205.1L267.0 204.6L267.6 204.3L268.2 204.2L268.8 204.2L269.4 204.3L270.0 204.5L270.6 204.5L271.2 204.8L271.8 205.2L272.4 205.6L273.0 206.0L273.6 206.5L274.2 207.0L274.8 207.6L275.4 208.1L276.0 208.8L276.6 209.3L277.2 209.9L277.8 210.5L278.4 211.1L279.0 211.7L279.6 212.4L280.2 213.1L280.8 213.9L281.4 214.7L282.0 215.6L282.6 216.5L283.2 217.4L283.8 218.3L284.4 219.1L285.0 219.9L285.6 220.7L286.2 221.6L286.8 222.4L287.4 223.2L288.0 224.0L288.6 224.7L289.2 225.4L289.8 226.0L290.4 226.5L291.0 227.1L291.6 227.5L292.2 228.0L292.8 228.4L293.4 228.8L294.0 229.2L294.6 229.5L295.2 229.9L295.8 230.2L296.4 230.5L297.0 230.8L297.6 231.1L298.2 231.4L298.8 231.6L299.4 231.9L300.0 232.1L300.6 232.3L301.2 232.5L301.8 232.7L302.4 232.9L303.0 233.1L303.6 233.3L304.2 233.4L304.8 233.6L305.4 233.7L306.0 233.9L306.6 234.0L307.2 234.2L307.8 234.3L308.4 234.4L309.0 234.5L309.6 234.6L310.2 234.7L310.8 234.8L311.4 234.9L312.0 235.0L312.6 235.1L313.2 235.2L313.8 235.3L314.4 235.4L315.0 235.5L315.6 235.6L316.2 235.7L316.8 235.8L317.4 235.9L318.0 236.0L318.6 236.0L319.2 236.1L319.8 236.2L320.4 236.3L321.0 236.4L321.6 236.5L322.2 236.6L322.8 236.6L323.4 236.7L324.0 236.8L324.6 236.9L325.2 237.0L325.8 237.0L326.4 237.1L327.0 237.2L327.6 237.3L328.2 237.4L328.8 237.5L329.4 237.5L330.0 237.6L330.6 237.7L331.2 237.8L331.8 237.9L332.4 238.0L333.0 238.1L333.6 238.2L334.2 238.3L334.8 238.4L335.4 238.5L336.0 238.6L336.6 238.7L337.2 238.8L337.8 238.8L338.4 238.9L339.0 239.0L339.6 239.1L340.2 239.1L340.8 239.2L341.4 239.3L342.0 239.3L342.6 239.4L343.2 239.4L343.8 239.5L344.4 239.5L345.0 239.6L345.6 239.6L346.2 239.7L346.8 239.7L347.4 239.7L348.0 239.8L348.5 239.8"/>
<path stroke="#ff22ff" d="M69.3 17.5L69.5 19.8L69.6 22.0L69.8 24.3L69.9 26.5L70.1 28.8L70.2 31.0L70.4 33.2L70.5 35.3L70.7 37.3L70.8 39.4L71.0 41.4L71.1 43.0L71.3 44.1L71.4 45.0L71.6 45.8L71.7 46.5L71.9 47.1L72.0 47.5L72.2 47.9L72.3 48.2L72.5 48.6L72.6 48.9L72.8 49.2L72.9 49.4L73.1 49.7L73.2 49.9L73.4 50.1L73.5 50.3L73.7 50.4L73.8 50.5L74.0 50.5L74.1 50.5L74.3 50.5L74.4 50.5L74.6 50.5L74.7 50.4L74.9 50.4L75.0 50.3L75.0 50.4L75.6 50.2L76.2 49.9L76.8 49.3L77.4 48.6L78.0 48.0L78.6 47.6L79.2 47.3L79.8 47.4L80.4 47.8L81.0 48.5L81.6 49.6L82.2 50.9L82.8 52.2L83.4 53.7L84.0 55.8L84.6 58.3L85.2 60.8L85.8 63.4L86.4 66.1L87.0 68.5L87.6 70.7L88.2 72.7L88.8 74.5L89.4 75.8L90.0 76.8L90.6 77.5L91.2 78.0L91.8 78.2L92.4 78.3L93.0 78.4L93.6 78.4L94.2 78.3L94.8 78.1L95.4 77.9L96.0 77.7L96.6 77.6L97.2 77.4L97.8 77.1L98.4 76.8L99.0 76.6L99.6 76.4L100.2 76.4L100.8 76.6L101.4 76.9L102.0 77.3L102.6 77.7L103.2 78.2L103.8 78.7L104.4 79.4L105.0 80.1L105.6 80.8L106.2 81.6L106.8 82.3L107.4 83.1L108.0 84.0L108.6 84.9L109.2 85.8L109.8 86.8L110.4 87.9L111.0 88.9L111.6 90.0L112.2 91.1L112.8 92.3L113.4 93.5L114.0 94.7L114.6 96.0L115.2 97.3L115.8 98.6L116.4 100.0L117.0 101.5L117.6 103.1L118.2 104.8L118.8 106.5L119.4 108.1L120.0 109.6L120.6 110.8L121.2 112.0L121.8 113.1L122.4 114.1L123.0 115.1L123.6 116.1L124.2 117.0L124.8 117.9L125.4 118.9L126.0 119.8L126.6 120.8L127.2 121.8L127.8 122.7L128.4 123.7L129.0 124.6L129.6 125.5L130.2 126.5L130.8 127.4L131.4 128.4L132.0 129.3L132.6 130.3L133.2 131.3L133.8 132.3L134.4 133.3L135.0 134.3L135.6 135.3L136.2 136.4L136.8 137.5L137.4 138.6L138.0 139.8L138.6 141.1L139.2 142.4L139.8 143.9L140.4 145.4L141.0 146.9L141.6 148.5L142.2 150.0L142.8 151.5L143.4 153.1L144.0 154.7L144.6 156.3L145.2 158.0L145.8 159.7L146.4 161.5L147.0 163.5L147.6 165.5L148.2 167.5L148.8 169.4L149.4 171.2L150.0 173.0L150.6 174.7L151.2 176.4L151.8 178.1L152.4 179.7L153.0 181.4L153.6 183.1L154.2 184.8L154.8 186.5L155.4 188.0L156.0 189.5L156.6 190.9L157.2 192.2L157.8 193.5L158.4 194.7L159.0 195.8L159.6 197.0L160.2 198.1L160.8 199.1L161.4 200.2L162.0 201.2L162.6 202.2L163.2 203.1L163.8 204.0L164.4 204.9L165.0 205.7L165.6 206.5L166.2 207.3L166.8 208.1L167.4 208.8L168.0 209.4L168.6 209.9L169.2 210.3L169.8 210.7L170.4 211.1L171.0 211.4L171.6 211.7L172.2 212.0L172.8 212.2L173.4 212.5L174.0 212.7L174.6 212.9L175.2 213.2L175.8 213.4L176.4 213.6L177.0 213.8L177.6 214.0L178.2 214.2L178.8 214.4L179.4 214.7L180.0 214.9L180.6 215.1L181.2 215.4L181.8 215.7L182.4 215.9L183.0 216.2L183.6 216.5L184.2 216.7L184.8 217.0L185.4 217.3L186.0 217.6L186.6 217.8L187.2 218.1L187.8 218.4L188.4 218.6L189.0 218.8L189.6 219.1L190.2 219.3L190.8 219.5L191.4 219.7L192.0 219.8L192.6 220.0L193.2 220.1L193.8 220.2L194.4 220.3L195.0 220.4L195.6 220.5L196.2 220.5L196.8 220.6L197.4 220.6L198.0 220.7L198.6 220.7L199.2 220.8L199.8 220.8L200.4 220.8L201.0 220.9L201.6 220.9L202.2 221.0L202.8 221.0L203.4 221.0L204.0 221.1L204.6 221.1L205.2 221.1L205.8 221.2L206.4 221.2L207.0 221.2L207.6 221.2L208.2 221.3L208.8 221.3L209.4 221.3L210.0 221.3L210.6 221.3L211.2 221.4L211.8 221.4L212.4 221.4L213.0 221.4L213.6 221.4L214.2 221.4L214.8 221.4L215.4 221.4L216.0 221.4L216.6 221.4L217.2 221.4L217.8 221.4L218.4 221.4L219.0 221.4L219.6 221.4L220.2 221.4L220.8 221.4L221.4 221.3L222.0 221.3L222.6 221.3L223.2 221.3L223.8 221.3L224.4 221.3L225.0 221.3L225.6 221.2L226.2 221.2L226.8 221.2L227.4 221.2L228.0 221.2L228.6 221.2L229.2 221.1L229.8 221.1L230.4 221.1L231.0 221.1L231.6 221.0L232.2 221.0L232.8 221.0L233.4 221.0L234.0 220.9L234.6 220.9L235.2 220.9L235.8 220.9L236.4 220.8L237.0 220.8L237.6 220.7L238.2 220.7L238.8 220.6L239.4 220.5L240.0 220.4L240.6 220.3L241.2 220.3L241.8 220.2L242.4 220.0L243.0 219.9L243.6 219.8L244.2 219.7L244.8 219.6L245.4 219.4L246.0 219.3L246.6 219.1L247.2 219.0L247.8 218.8L248.4 218.7L249.0 218.5L249.6 218.3L250.2 218.1L250.8 217.9L251.4 217.6L252.0 217.3L252.6 216.9L253.2 216.5L253.8 216.1L254.4 215.7L255.0 215.2L255.6 214.8L256.2 214.4L256.8 213.9L257.4 213.5L258.0 213.1L258.6 212.6L259.2 212.1L259.8 211.5L260.4 210.8L261.0 210.0L261.6 209.0L262.2 208.0L262.8 207.2L263.4 206.3L264.0 205.4L264.6 204.5L265.2 203.8L265.8 203.2L266.4 202.7L267.0 202.1L267.6 201.8L268.2 201.7L268.8 201.8L269.4 201.9L270.0 202.1L270.6 202.4L271.2 202.9L271.8 203.6L272.4 204.3L273.0 205.0L273.6 205.7L274.2 206.4L274.8 207.2L275.4 208.0L276.0 208.8L276.6 209.6L277.2 210.4L277.8 211.1L278.4 211.9L279.0 212.7L279.6 213.5L280.2 214.3L280.8 215.1L281.4 216.1L282.0 217.0L282.6 217.9L283.2 218.9L283.8 219.8L284.4 220.7L285.0 221.5L285.6 222.3L286.2 223.1L286.8 223.9L287.4 224.7L288.0 225.4L288.6 226.1L289.2 226.7L289.8 227.3L290.4 227.8L291.0 228.3L291.6 228.8L292.2 229.2L292.8 229.6L293.4 230.0L294.0 230.4L294.6 230.7L295.2 231.0L295.8 231.3L296.4 231.6L297.0 231.9L297.6 232.1L298.2 232.4L298.8 232.7L299.4 232.9L300.0 233.2L300.6 233.4L301.2 233.6L301.8 233.8L302.4 234.0L303.0 234.2L303.6 234.4L304.2 234.6L304.8 234.7L305.4 234.9L306.0 235.1L306.6 235.2L307.2 235.4L307.8 235.5L308.4 235.6L309.0 235.8L309.6 235.9L310.2 236.0L310.8 236.1L311.4 236.2L312.0 236.4L312.6 236.5L313.2 236.6L313.8 236.7L314.4 236.8L315.0 236.9L315.6 237.0L316.2 237.1L316.8 237.2L317.4 237.3L318.0 237.4L318.6 237.4L319.2 237.5L319.8 237.6L320.4 237.7L321.0 237.8L321.6 237.9L322.2 237.9L322.8 238.0L323.4 238.1L324.0 238.2L324.6 238.3L325.2 238.3L325.8 238.4L326.4 238.5L327.0 238.5L327.6 238.6L328.2 238.7L328.8 238.8L329.4 238.8L330.0 238.9L330.6 239.0L331.2 239.0L331.8 239.1L332.4 239.2L333.0 239.3L333.6 239.3L334.2 239.4L334.8 239.5L335.4 239.5L336.0 239.6L336.6 239.7L337.2 239.7L337.8 239.8L338.4 239.9L339.0 239.9L339.6 240.0L340.2 240.0L340.8 240.1L341.4 240.1L342.0 240.2L342.6 240.2L343.2 240.3L343.8 240.3L344.4 240.3L345.0 240.4L345.6 240.4L346.2 240.5L346.8 240.5L347.4 240.5L348.0 240.6L348.5 240.6"/>
</g>
<g stroke="#777" stroke-width="1">
<line x1="97.4" y1="38.5" x2="97.4" y2="64"/>
<line x1="164.8" y1="149" x2="164.8" y2="174.7"/>
<line x1="303.8" y1="201" x2="303.8" y2="226.5"/>
<line x1="545" y1="111" x2="545" y2="144.5"/>
</g><g fill="#111">
<path d="M95.8,62.8 L99.0,62.8 L97.4,68.4 Z"/>
<path d="M163.2,150.2 L166.5,150.2 L164.8,144.7 Z"/>
<path d="M302.2,201.8 L305.4,201.8 L303.8,196.4 Z"/>
<path d="M543.4,143.8 L546.7,143.8 L545,149.6 Z"/>
</g>
<rect x="188.5" y="22.7" width="152.7" height="122.3" fill="#fff" stroke="#7a7a7a" stroke-width="1"/>
<g stroke="#7a7a7a" stroke-width="0.9">
<line x1="185.5" y1="141.50" x2="188.5" y2="141.50"/>
<line x1="186.5" y1="129.87" x2="188.5" y2="129.87"/>
<line x1="185.5" y1="118.24" x2="188.5" y2="118.24"/>
<line x1="186.5" y1="106.61" x2="188.5" y2="106.61"/>
<line x1="185.5" y1="94.98" x2="188.5" y2="94.98"/>
<line x1="186.5" y1="83.35" x2="188.5" y2="83.35"/>
<line x1="185.5" y1="71.72" x2="188.5" y2="71.72"/>
<line x1="186.5" y1="60.09" x2="188.5" y2="60.09"/>
<line x1="185.5" y1="48.46" x2="188.5" y2="48.46"/>
<line x1="186.5" y1="36.83" x2="188.5" y2="36.83"/>
<line x1="185.5" y1="25.20" x2="188.5" y2="25.20"/>
<line x1="191.30" y1="145.0" x2="191.30" y2="148.0"/>
<line x1="201.23" y1="145.0" x2="201.23" y2="147.0"/>
<line x1="211.16" y1="145.0" x2="211.16" y2="148.0"/>
<line x1="221.09" y1="145.0" x2="221.09" y2="147.0"/>
<line x1="231.02" y1="145.0" x2="231.02" y2="148.0"/>
<line x1="240.95" y1="145.0" x2="240.95" y2="147.0"/>
<line x1="250.88" y1="145.0" x2="250.88" y2="148.0"/>
<line x1="260.81" y1="145.0" x2="260.81" y2="147.0"/>
<line x1="270.74" y1="145.0" x2="270.74" y2="148.0"/>
<line x1="280.67" y1="145.0" x2="280.67" y2="147.0"/>
<line x1="290.60" y1="145.0" x2="290.60" y2="148.0"/>
<line x1="300.53" y1="145.0" x2="300.53" y2="147.0"/>
<line x1="310.46" y1="145.0" x2="310.46" y2="148.0"/>
<line x1="320.39" y1="145.0" x2="320.39" y2="147.0"/>
<line x1="330.32" y1="145.0" x2="330.32" y2="148.0"/>
</g>
<g font-family="&quot;Liberation Sans&quot;, sans-serif" font-weight="bold" font-size="7.6" fill="#222" text-anchor="end">
<text x="184.6" y="144.40">0.0</text>
<text x="184.6" y="121.14">0.2</text>
<text x="184.6" y="97.88">0.4</text>
<text x="184.6" y="74.62">0.6</text>
<text x="184.6" y="51.36">0.8</text>
<text x="184.6" y="28.10">1.0</text>
</g>
<g font-family="&quot;Liberation Sans&quot;, sans-serif" font-weight="bold" font-size="7.6" fill="#222" text-anchor="middle">
<text x="191.30" y="155">0.0</text>
<text x="211.16" y="155">0.2</text>
<text x="231.02" y="155">0.4</text>
<text x="250.88" y="155">0.6</text>
<text x="270.74" y="155">0.8</text>
<text x="290.60" y="155">1.0</text>
<text x="310.46" y="155">1.2</text>
<text x="330.32" y="155">1.4</text>
</g>
<text font-family="&quot;Liberation Sans&quot;, sans-serif" font-weight="bold" font-size="11.3" fill="#111" x="265.3" y="166.3" text-anchor="middle">[Fe<tspan font-size="8.3" dy="-4.5">2+</tspan><tspan dy="4.5">]/[DDSQ]</tspan></text>
<text font-family="&quot;Liberation Sans&quot;, sans-serif" font-weight="bold" font-size="13.2" fill="#111" transform="translate(170.8,83) rotate(-90)" text-anchor="middle">Normalize</text>
<rect x="188.80" y="22.70" width="5" height="5" fill="#000"/>
<rect x="206.80" y="42.01" width="5" height="5" fill="#000"/>
<rect x="224.80" y="60.38" width="5" height="5" fill="#000"/>
<rect x="242.80" y="81.43" width="5" height="5" fill="#000"/>
<rect x="260.50" y="100.97" width="5" height="5" fill="#000"/>
<rect x="278.80" y="121.09" width="5" height="5" fill="#000"/>
<rect x="296.80" y="131.56" width="5" height="5" fill="#000"/>
<rect x="314.90" y="139.00" width="5" height="5" fill="#000"/>
<rect x="334.80" y="139.00" width="5" height="5" fill="#000"/>
<rect x="188.80" y="139.00" width="5" height="5" fill="#f00"/>
<rect x="206.80" y="120.97" width="5" height="5" fill="#f00"/>
<rect x="224.80" y="113.18" width="5" height="5" fill="#f00"/>
<rect x="242.80" y="89.22" width="5" height="5" fill="#f00"/>
<rect x="260.50" y="78.76" width="5" height="5" fill="#f00"/>
<rect x="278.80" y="49.22" width="5" height="5" fill="#f00"/>
<rect x="296.80" y="33.75" width="5" height="5" fill="#f00"/>
<rect x="314.90" y="22.70" width="5" height="5" fill="#f00"/>
<rect x="334.80" y="22.70" width="5" height="5" fill="#f00"/>
<rect x="280.5" y="74.5" width="56" height="23.5" fill="#fff" stroke="#888" stroke-width="0.8"/>
<rect x="284.2" y="79" width="5" height="5" fill="#000"/>
<rect x="284.2" y="91.6" width="5" height="5" fill="#f00"/>
<text font-family="&quot;Liberation Sans&quot;, sans-serif" font-size="10" fill="#222" x="295.6" y="84.5">I(386)</text>
<text font-family="&quot;Liberation Sans&quot;, sans-serif" font-size="10" fill="#222" x="295.9" y="96.8">Abs(574)</text>
<g stroke="#7a7a7a" stroke-width="1.25" fill="none">
<rect x="412.8" y="18.8" width="279.8" height="224.8"/>
<line x1="435.50" y1="243.6" x2="435.50" y2="247.4"/>
<line x1="486.50" y1="243.6" x2="486.50" y2="247.4"/>
<line x1="537.50" y1="243.6" x2="537.50" y2="247.4"/>
<line x1="588.50" y1="243.6" x2="588.50" y2="247.4"/>
<line x1="639.50" y1="243.6" x2="639.50" y2="247.4"/>
<line x1="690.50" y1="243.6" x2="690.50" y2="247.4"/>
<line x1="461.00" y1="243.6" x2="461.00" y2="246.1"/>
<line x1="512.00" y1="243.6" x2="512.00" y2="246.1"/>
<line x1="563.00" y1="243.6" x2="563.00" y2="246.1"/>
<line x1="614.00" y1="243.6" x2="614.00" y2="246.1"/>
<line x1="665.00" y1="243.6" x2="665.00" y2="246.1"/>
<line x1="408.8" y1="242.50" x2="412.8" y2="242.50"/>
<line x1="408.8" y1="186.60" x2="412.8" y2="186.60"/>
<line x1="408.8" y1="130.70" x2="412.8" y2="130.70"/>
<line x1="408.8" y1="74.80" x2="412.8" y2="74.80"/>
<line x1="408.8" y1="18.90" x2="412.8" y2="18.90"/>
<line x1="410.3" y1="214.55" x2="412.8" y2="214.55"/>
<line x1="410.3" y1="158.65" x2="412.8" y2="158.65"/>
<line x1="410.3" y1="102.75" x2="412.8" y2="102.75"/>
<line x1="410.3" y1="46.85" x2="412.8" y2="46.85"/>
</g>
<g font-family="&quot;Liberation Sans&quot;, sans-serif" font-weight="bold" font-size="10.5" fill="#1a1a1a" text-anchor="middle">
<text x="435.50" y="259.5">350</text>
<text x="486.50" y="259.5">400</text>
<text x="537.50" y="259.5">450</text>
<text x="588.50" y="259.5">500</text>
<text x="639.50" y="259.5">550</text>
<text x="690.50" y="259.5">600</text>
</g>
<g font-family="&quot;Liberation Sans&quot;, sans-serif" font-weight="bold" font-size="10.5" fill="#1a1a1a" text-anchor="end">
<text x="405.5" y="246.20">0</text>
<text x="405.5" y="190.30">100</text>
<text x="405.5" y="134.40">200</text>
<text x="405.5" y="78.50">300</text>
<text x="405.5" y="22.60">400</text>
</g>
<text font-family="&quot;Liberation Sans&quot;, sans-serif" font-weight="bold" font-size="14.2" fill="#111" x="552.5" y="281.8" text-anchor="middle">Wavelength (nm)</text>
<text font-family="&quot;Liberation Sans&quot;, sans-serif" font-weight="bold" font-size="14.5" fill="#111" transform="translate(385.6,122) rotate(-90)" text-anchor="middle">Intensity (a.u.)</text>
<g fill="none" stroke-width="1.15" stroke-linejoin="round">
<path stroke="#8c228c" d="M412.6 243.4L413.5 243.1L414.4 242.7L415.3 242.6L416.2 242.6L417.1 242.3L418.1 243.3L419.0 242.6L419.9 241.9L420.8 242.2L421.7 241.4L422.6 242.7L423.6 242.8L424.5 243.2L425.4 243.3L426.3 242.0L427.2 242.5L428.2 242.7L429.1 242.6L430.0 242.1L430.9 242.6L431.8 242.4L432.7 242.7L433.7 242.0L434.6 241.9L435.5 241.6L436.4 241.6L437.3 241.2L438.3 241.2L439.2 241.4L440.1 241.2L441.0 241.4L441.9 241.1L442.8 240.8L443.8 239.9L444.7 240.5L445.6 240.6L446.5 239.3L447.4 239.1L448.4 238.8L449.3 238.4L450.2 238.4L451.1 237.7L452.0 237.9L452.9 236.8L453.9 237.0L454.8 236.6L455.7 236.2L456.6 236.8L457.5 236.2L458.4 236.3L459.4 235.9L460.3 236.3L461.2 236.2L462.1 235.9L463.0 235.2L464.0 236.2L464.9 236.2L465.8 235.9L466.7 235.9L467.6 235.9L468.5 235.9L469.5 235.4L470.4 235.7L471.3 235.9L472.2 235.5L473.1 235.3L474.1 236.4L475.0 235.9L475.9 235.5L476.8 235.4L477.7 234.4L478.6 234.9L479.6 235.3L480.5 235.9L481.4 234.5L482.3 235.0L483.2 236.1L484.2 235.5L485.1 235.3L486.0 235.6L486.9 235.0L487.8 234.9L488.7 235.2L489.7 235.1L490.6 234.2L491.5 235.1L492.4 233.6L493.3 233.9L494.3 235.3L495.2 233.7L496.1 234.0L497.0 233.1L497.9 233.2L498.8 232.8L499.8 232.8L500.7 233.0L501.6 233.3L502.5 232.8L503.4 232.9L504.3 231.9L505.3 232.5L506.2 232.0L507.1 232.2L508.0 231.4L508.9 231.3L509.9 231.8L510.8 231.4L511.7 231.0L512.6 230.6L513.5 230.7L514.4 230.8L515.4 230.8L516.3 230.1L517.2 230.1L518.1 230.3L519.0 229.5L520.0 230.3L520.9 229.8L521.8 229.6L522.7 228.6L523.6 228.8L524.5 229.0L525.5 229.1L526.4 228.8L527.3 229.4L528.2 229.3L529.1 229.1L530.1 228.3L531.0 229.8L531.9 229.1L532.8 229.4L533.7 228.9L534.6 229.2L535.6 229.5L536.5 229.3L537.4 229.6L538.3 229.1L539.2 230.0L540.2 228.4L541.1 229.0L542.0 229.6L542.9 229.2L543.8 229.2L544.7 228.7L545.7 230.1L546.6 228.9L547.5 230.0L548.4 230.0L549.3 230.4L550.2 230.8L551.2 230.0L552.1 230.2L553.0 230.6L553.9 230.2L554.8 231.5L555.8 231.3L556.7 231.7L557.6 231.4L558.5 232.1L559.4 232.0L560.3 232.4L561.3 232.0L562.2 233.0L563.1 232.4L564.0 231.7L564.9 233.1L565.9 232.8L566.8 232.7L567.7 234.2L568.6 233.2L569.5 232.8L570.4 233.2L571.4 233.8L572.3 233.7L573.2 234.4L574.1 234.5L575.0 233.9L576.0 234.5L576.9 234.9L577.8 234.6L578.7 234.8L579.6 235.6L580.5 235.6L581.5 235.0L582.4 235.6L583.3 235.8L584.2 236.2L585.1 236.1L586.1 237.2L587.0 236.4L587.9 236.6L588.8 237.3L589.7 236.4L590.6 237.1L591.6 237.9L592.5 237.2L593.4 237.5L594.3 238.4L595.2 238.2L596.1 238.1L597.1 238.3L598.0 238.0L598.9 238.4L599.8 238.3L600.7 239.5L601.7 238.7L602.6 238.4L603.5 238.6L604.4 238.7L605.3 238.1L606.2 238.4L607.2 239.4L608.1 238.2L609.0 238.6L609.9 239.3L610.8 239.6L611.8 238.6L612.7 239.7L613.6 239.0L614.5 239.9L615.4 239.5L616.3 239.3L617.3 239.8L618.2 239.8L619.1 239.3L620.0 240.6L620.9 239.6L621.9 240.3L622.8 239.7L623.7 239.2L624.6 239.6L625.5 240.1L626.4 240.5L627.4 241.0L628.3 240.3L629.2 240.2L630.1 239.9L631.0 240.5L632.0 240.7L632.9 239.7L633.8 241.2L634.7 241.2L635.6 241.7L636.5 240.4L637.5 240.9L638.4 240.9L639.3 240.4L640.2 240.6L641.1 240.6L642.0 241.3L643.0 241.3L643.9 241.8L644.8 241.1L645.7 240.7L646.6 241.5L647.6 241.5L648.5 241.7L649.4 242.0L650.3 241.3L651.2 241.9L652.1 241.2L653.1 241.7L654.0 241.9L654.9 241.6L655.8 241.8L656.7 241.1L657.7 241.5L658.6 241.8L659.5 241.3L660.4 241.5L661.3 242.9L662.2 242.0L663.2 241.5L664.1 241.4L665.0 242.5L665.9 240.7L666.8 241.8L667.8 242.2L668.7 241.7L669.6 242.2L670.5 241.5L671.4 242.0L672.3 242.0L673.3 242.0L674.2 242.1L675.1 242.0L676.0 242.5L676.9 241.9L677.9 241.8L678.8 242.0L679.7 242.0L680.6 241.5L681.5 241.3L682.4 241.5L683.4 242.2L684.3 241.8L685.2 242.0L686.1 243.3L687.0 242.6L687.9 242.1L688.9 241.9L689.8 242.7L690.7 241.8L691.6 242.7L692.5 242.4"/>
<path stroke="#24248c" d="M412.6 242.5L413.5 242.3L414.4 243.3L415.3 242.8L416.2 242.3L417.1 242.4L418.1 243.1L419.0 243.0L419.9 242.4L420.8 242.3L421.7 241.7L422.6 242.1L423.6 242.1L424.5 241.9L425.4 242.8L426.3 241.3L427.2 242.0L428.2 242.1L429.1 242.1L430.0 242.5L430.9 241.2L431.8 241.3L432.7 241.6L433.7 241.4L434.6 241.0L435.5 240.7L436.4 241.2L437.3 240.0L438.3 239.9L439.2 240.3L440.1 240.1L441.0 239.3L441.9 238.1L442.8 237.6L443.8 237.0L444.7 236.2L445.6 235.8L446.5 235.7L447.4 234.4L448.4 233.0L449.3 232.0L450.2 230.9L451.1 230.8L452.0 228.4L452.9 228.4L453.9 226.8L454.8 226.1L455.7 225.2L456.6 225.6L457.5 224.6L458.4 225.3L459.4 223.3L460.3 223.0L461.2 223.4L462.1 223.2L463.0 222.7L464.0 221.9L464.9 223.2L465.8 222.8L466.7 222.7L467.6 222.2L468.5 222.7L469.5 222.2L470.4 222.4L471.3 222.3L472.2 222.9L473.1 222.1L474.1 222.2L475.0 222.7L475.9 222.4L476.8 222.3L477.7 222.2L478.6 222.7L479.6 222.0L480.5 222.5L481.4 223.1L482.3 222.5L483.2 222.0L484.2 221.9L485.1 222.5L486.0 222.0L486.9 222.0L487.8 222.4L488.7 222.3L489.7 223.2L490.6 222.3L491.5 223.7L492.4 222.7L493.3 223.1L494.3 223.3L495.2 223.2L496.1 223.4L497.0 222.6L497.9 222.1L498.8 222.9L499.8 222.3L500.7 222.7L501.6 223.4L502.5 222.9L503.4 222.7L504.3 222.5L505.3 222.9L506.2 222.9L507.1 222.4L508.0 223.2L508.9 222.7L509.9 223.2L510.8 223.0L511.7 223.6L512.6 223.6L513.5 223.3L514.4 223.2L515.4 223.5L516.3 223.9L517.2 223.8L518.1 223.5L519.0 223.5L520.0 224.1L520.9 222.8L521.8 223.7L522.7 223.2L523.6 224.1L524.5 223.4L525.5 223.6L526.4 223.2L527.3 223.8L528.2 224.2L529.1 224.6L530.1 223.5L531.0 223.9L531.9 225.9L532.8 224.7L533.7 224.4L534.6 224.7L535.6 223.5L536.5 225.3L537.4 224.8L538.3 224.2L539.2 225.4L540.2 224.8L541.1 224.7L542.0 225.5L542.9 225.6L543.8 225.4L544.7 225.7L545.7 225.4L546.6 225.5L547.5 226.7L548.4 227.1L549.3 227.0L550.2 227.1L551.2 227.0L552.1 227.4L553.0 227.3L553.9 228.8L554.8 228.1L555.8 228.8L556.7 228.9L557.6 228.6L558.5 230.3L559.4 229.6L560.3 229.6L561.3 230.1L562.2 229.9L563.1 230.4L564.0 230.1L564.9 230.9L565.9 230.8L566.8 230.4L567.7 231.5L568.6 231.3L569.5 230.9L570.4 231.7L571.4 231.9L572.3 232.7L573.2 231.8L574.1 232.8L575.0 232.6L576.0 233.1L576.9 233.0L577.8 233.3L578.7 233.8L579.6 233.3L580.5 233.1L581.5 234.2L582.4 234.3L583.3 234.8L584.2 235.3L585.1 235.2L586.1 236.0L587.0 235.7L587.9 236.0L588.8 236.5L589.7 236.6L590.6 236.4L591.6 236.7L592.5 236.4L593.4 236.6L594.3 237.0L595.2 237.5L596.1 237.0L597.1 237.7L598.0 238.2L598.9 238.4L599.8 237.6L600.7 238.1L601.7 238.0L602.6 238.1L603.5 238.2L604.4 238.2L605.3 238.3L606.2 238.1L607.2 238.0L608.1 238.3L609.0 238.5L609.9 238.8L610.8 238.5L611.8 238.8L612.7 239.1L613.6 238.2L614.5 238.6L615.4 239.0L616.3 238.9L617.3 238.5L618.2 239.5L619.1 239.1L620.0 238.8L620.9 240.1L621.9 238.9L622.8 239.5L623.7 239.3L624.6 239.7L625.5 240.0L626.4 239.5L627.4 239.8L628.3 239.9L629.2 239.6L630.1 240.6L631.0 240.2L632.0 240.1L632.9 240.0L633.8 240.2L634.7 240.5L635.6 240.3L636.5 241.0L637.5 239.5L638.4 239.7L639.3 240.6L640.2 240.0L641.1 240.8L642.0 240.6L643.0 241.2L643.9 241.2L644.8 241.6L645.7 241.5L646.6 241.7L647.6 241.4L648.5 241.7L649.4 241.5L650.3 241.1L651.2 240.9L652.1 240.9L653.1 241.7L654.0 240.5L654.9 241.6L655.8 241.3L656.7 241.9L657.7 241.7L658.6 241.3L659.5 241.7L660.4 240.8L661.3 241.8L662.2 241.9L663.2 241.0L664.1 242.2L665.0 241.8L665.9 241.9L666.8 241.3L667.8 242.1L668.7 242.1L669.6 241.9L670.5 241.5L671.4 242.3L672.3 242.5L673.3 242.2L674.2 242.4L675.1 241.8L676.0 242.1L676.9 242.2L677.9 242.1L678.8 243.3L679.7 242.3L680.6 241.9L681.5 242.5L682.4 241.7L683.4 242.3L684.3 242.5L685.2 242.0L686.1 242.0L687.0 241.8L687.9 242.2L688.9 241.9L689.8 242.9L690.7 242.5L691.6 242.1L692.5 241.6"/>
<path stroke="#ff22ff" d="M412.6 242.3L413.5 242.5L414.4 242.7L415.3 242.9L416.2 242.4L417.1 242.6L418.1 242.7L419.0 241.8L419.9 241.6L420.8 242.8L421.7 242.7L422.6 242.1L423.6 242.1L424.5 241.5L425.4 241.2L426.3 241.9L427.2 241.0L428.2 241.9L429.1 241.1L430.0 241.4L430.9 241.9L431.8 241.7L432.7 240.6L433.7 240.9L434.6 239.7L435.5 239.5L436.4 239.5L437.3 239.5L438.3 238.1L439.2 237.9L440.1 237.0L441.0 235.6L441.9 235.1L442.8 234.7L443.8 232.8L444.7 231.7L445.6 230.3L446.5 228.0L447.4 227.0L448.4 225.3L449.3 223.5L450.2 221.4L451.1 218.6L452.0 216.5L452.9 214.6L453.9 212.7L454.8 211.1L455.7 210.4L456.6 209.2L457.5 207.2L458.4 206.8L459.4 205.1L460.3 204.8L461.2 203.9L462.1 203.2L463.0 203.6L464.0 203.4L464.9 203.0L465.8 202.8L466.7 202.5L467.6 202.8L468.5 202.5L469.5 202.8L470.4 202.1L471.3 202.7L472.2 202.8L473.1 203.1L474.1 203.0L475.0 202.7L475.9 202.3L476.8 201.9L477.7 202.7L478.6 203.3L479.6 203.5L480.5 201.8L481.4 202.6L482.3 202.9L483.2 202.8L484.2 203.6L485.1 203.8L486.0 203.8L486.9 204.3L487.8 203.9L488.7 204.5L489.7 204.9L490.6 206.0L491.5 205.2L492.4 206.1L493.3 206.8L494.3 206.7L495.2 207.3L496.1 206.9L497.0 207.6L497.9 208.1L498.8 208.8L499.8 208.4L500.7 209.0L501.6 208.6L502.5 208.9L503.4 209.7L504.3 209.5L505.3 210.1L506.2 210.1L507.1 210.9L508.0 211.3L508.9 210.2L509.9 211.6L510.8 211.3L511.7 211.6L512.6 211.6L513.5 212.2L514.4 211.6L515.4 212.0L516.3 212.3L517.2 212.9L518.1 213.4L519.0 213.6L520.0 213.6L520.9 213.4L521.8 213.2L522.7 214.3L523.6 214.4L524.5 214.6L525.5 215.3L526.4 214.8L527.3 215.0L528.2 214.4L529.1 215.8L530.1 215.8L531.0 215.7L531.9 216.4L532.8 216.1L533.7 216.5L534.6 217.8L535.6 217.5L536.5 217.8L537.4 217.9L538.3 218.1L539.2 218.1L540.2 219.2L541.1 218.4L542.0 219.0L542.9 218.9L543.8 219.2L544.7 218.6L545.7 219.2L546.6 221.0L547.5 221.3L548.4 220.8L549.3 221.3L550.2 221.9L551.2 221.5L552.1 223.1L553.0 222.3L553.9 222.8L554.8 222.4L555.8 224.6L556.7 224.4L557.6 225.4L558.5 224.7L559.4 225.6L560.3 225.8L561.3 226.1L562.2 227.1L563.1 227.4L564.0 227.3L564.9 226.8L565.9 227.5L566.8 227.9L567.7 227.8L568.6 228.1L569.5 228.3L570.4 227.9L571.4 228.7L572.3 229.5L573.2 228.7L574.1 229.5L575.0 230.1L576.0 229.5L576.9 230.3L577.8 229.9L578.7 230.7L579.6 230.7L580.5 231.2L581.5 231.6L582.4 232.0L583.3 232.4L584.2 231.8L585.1 233.8L586.1 233.3L587.0 233.3L587.9 233.7L588.8 234.4L589.7 234.1L590.6 234.5L591.6 234.7L592.5 235.3L593.4 234.9L594.3 235.6L595.2 235.7L596.1 235.6L597.1 236.3L598.0 235.9L598.9 235.6L599.8 236.3L600.7 236.3L601.7 236.4L602.6 236.6L603.5 237.5L604.4 236.7L605.3 236.9L606.2 236.7L607.2 237.4L608.1 237.0L609.0 236.7L609.9 236.6L610.8 237.5L611.8 237.7L612.7 236.8L613.6 237.2L614.5 237.9L615.4 238.2L616.3 237.3L617.3 237.8L618.2 238.5L619.1 238.0L620.0 238.1L620.9 238.2L621.9 238.0L622.8 238.7L623.7 238.9L624.6 238.3L625.5 239.0L626.4 239.5L627.4 239.2L628.3 239.7L629.2 239.1L630.1 240.0L631.0 239.2L632.0 240.4L632.9 239.5L633.8 239.4L634.7 239.4L635.6 239.7L636.5 239.8L637.5 239.8L638.4 240.0L639.3 240.5L640.2 240.6L641.1 240.2L642.0 240.9L643.0 240.1L643.9 240.1L644.8 240.2L645.7 240.9L646.6 240.1L647.6 240.2L648.5 241.4L649.4 241.7L650.3 241.6L651.2 240.4L652.1 241.1L653.1 241.5L654.0 241.2L654.9 240.6L655.8 241.1L656.7 240.6L657.7 240.8L658.6 242.3L659.5 241.7L660.4 240.8L661.3 240.9L662.2 241.7L663.2 241.3L664.1 241.8L665.0 241.3L665.9 241.5L666.8 241.7L667.8 241.2L668.7 240.9L669.6 241.2L670.5 241.4L671.4 241.7L672.3 241.8L673.3 241.8L674.2 242.0L675.1 241.5L676.0 242.5L676.9 242.7L677.9 242.1L678.8 242.0L679.7 242.5L680.6 242.2L681.5 242.0L682.4 241.9L683.4 241.7L684.3 241.5L685.2 242.3L686.1 242.5L687.0 241.6L687.9 242.0L688.9 242.1L689.8 241.9L690.7 241.7L691.6 241.9L692.5 241.2"/>
<path stroke="#20eaff" d="M412.6 242.4L413.5 242.8L414.4 242.0L415.3 242.7L416.2 241.6L417.1 241.9L418.1 242.1L419.0 242.5L419.9 241.7L420.8 241.0L421.7 242.0L422.6 241.6L423.6 241.1L424.5 240.9L425.4 240.9L426.3 241.1L427.2 241.2L428.2 240.1L429.1 241.4L430.0 240.2L430.9 239.8L431.8 239.9L432.7 239.2L433.7 239.7L434.6 238.7L435.5 237.5L436.4 236.8L437.3 236.0L438.3 235.2L439.2 234.5L440.1 232.6L441.0 232.0L441.9 229.4L442.8 227.3L443.8 225.3L444.7 221.3L445.6 218.7L446.5 216.2L447.4 212.6L448.4 209.2L449.3 205.7L450.2 201.6L451.1 198.0L452.0 193.9L452.9 190.2L453.9 188.1L454.8 184.0L455.7 181.1L456.6 179.5L457.5 177.0L458.4 174.4L459.4 172.7L460.3 171.5L461.2 169.8L462.1 169.4L463.0 168.7L464.0 168.2L464.9 168.1L465.8 167.8L466.7 168.1L467.6 167.8L468.5 166.3L469.5 167.3L470.4 166.4L471.3 166.2L472.2 167.1L473.1 166.6L474.1 166.8L475.0 167.5L475.9 166.8L476.8 166.8L477.7 167.5L478.6 168.0L479.6 167.9L480.5 167.3L481.4 167.9L482.3 168.5L483.2 169.8L484.2 170.0L485.1 170.6L486.0 171.5L486.9 171.6L487.8 172.7L488.7 173.5L489.7 173.8L490.6 175.1L491.5 176.3L492.4 176.4L493.3 178.1L494.3 178.9L495.2 179.8L496.1 179.8L497.0 181.0L497.9 182.4L498.8 182.9L499.8 183.0L500.7 184.2L501.6 185.5L502.5 185.6L503.4 186.6L504.3 188.3L505.3 188.0L506.2 188.7L507.1 189.1L508.0 190.0L508.9 191.7L509.9 191.8L510.8 192.2L511.7 193.0L512.6 194.2L513.5 195.3L514.4 195.4L515.4 196.7L516.3 196.9L517.2 198.0L518.1 198.7L519.0 199.4L520.0 199.6L520.9 200.4L521.8 201.3L522.7 201.1L523.6 202.3L524.5 203.0L525.5 203.7L526.4 203.8L527.3 204.2L528.2 204.9L529.1 205.1L530.1 205.8L531.0 206.6L531.9 207.0L532.8 207.0L533.7 207.8L534.6 207.5L535.6 209.2L536.5 209.1L537.4 209.9L538.3 209.8L539.2 210.7L540.2 211.3L541.1 212.0L542.0 211.6L542.9 213.0L543.8 213.1L544.7 213.4L545.7 214.5L546.6 214.8L547.5 215.3L548.4 215.7L549.3 216.6L550.2 217.0L551.2 217.4L552.1 217.5L553.0 218.2L553.9 219.1L554.8 220.0L555.8 220.0L556.7 221.1L557.6 221.0L558.5 221.0L559.4 222.2L560.3 221.9L561.3 222.8L562.2 223.5L563.1 223.3L564.0 223.7L564.9 225.1L565.9 224.6L566.8 224.9L567.7 225.5L568.6 225.4L569.5 225.8L570.4 226.3L571.4 225.5L572.3 227.4L573.2 226.8L574.1 227.1L575.0 228.2L576.0 228.4L576.9 228.2L577.8 229.2L578.7 229.0L579.6 229.5L580.5 229.5L581.5 230.1L582.4 231.0L583.3 231.2L584.2 231.6L585.1 232.2L586.1 232.1L587.0 232.2L587.9 232.7L588.8 233.7L589.7 233.3L590.6 233.7L591.6 233.7L592.5 234.1L593.4 234.3L594.3 234.4L595.2 234.5L596.1 234.4L597.1 234.5L598.0 235.2L598.9 235.5L599.8 235.7L600.7 235.5L601.7 235.3L602.6 236.0L603.5 236.1L604.4 235.3L605.3 236.4L606.2 236.4L607.2 237.0L608.1 235.9L609.0 236.0L609.9 236.9L610.8 236.0L611.8 236.5L612.7 236.5L613.6 236.7L614.5 236.4L615.4 237.2L616.3 237.9L617.3 237.8L618.2 237.9L619.1 237.7L620.0 238.6L620.9 238.3L621.9 238.6L622.8 237.7L623.7 238.6L624.6 238.1L625.5 238.8L626.4 238.8L627.4 238.4L628.3 239.0L629.2 239.5L630.1 239.4L631.0 239.5L632.0 239.0L632.9 239.1L633.8 239.0L634.7 239.6L635.6 240.2L636.5 239.9L637.5 239.8L638.4 239.4L639.3 240.2L640.2 240.0L641.1 239.3L642.0 239.5L643.0 240.1L643.9 240.0L644.8 241.1L645.7 240.5L646.6 240.1L647.6 240.4L648.5 241.4L649.4 240.4L650.3 241.2L651.2 241.1L652.1 241.6L653.1 241.2L654.0 240.9L654.9 241.3L655.8 241.2L656.7 241.6L657.7 241.2L658.6 242.1L659.5 241.3L660.4 241.5L661.3 241.1L662.2 241.4L663.2 241.4L664.1 241.5L665.0 241.9L665.9 241.3L666.8 241.2L667.8 242.0L668.7 241.5L669.6 241.3L670.5 242.1L671.4 242.0L672.3 240.6L673.3 241.6L674.2 242.1L675.1 242.1L676.0 241.6L676.9 242.5L677.9 241.5L678.8 241.8L679.7 241.9L680.6 241.9L681.5 242.3L682.4 242.4L683.4 241.9L684.3 242.5L685.2 241.7L686.1 241.9L687.0 242.7L687.9 242.0L688.9 242.5L689.8 241.8L690.7 241.9L691.6 242.0L692.5 242.1"/>
<path stroke="#2a2aff" d="M412.6 242.8L413.5 242.3L414.4 242.1L415.3 242.5L416.2 241.5L417.1 240.8L418.1 241.7L419.0 241.4L419.9 242.4L420.8 241.6L421.7 241.0L422.6 240.8L423.6 241.3L424.5 240.5L425.4 240.4L426.3 240.3L427.2 240.2L428.2 239.9L429.1 239.6L430.0 239.7L430.9 239.4L431.8 237.5L432.7 238.7L433.7 237.1L434.6 236.8L435.5 235.2L436.4 234.6L437.3 233.5L438.3 232.1L439.2 230.8L440.1 228.8L441.0 225.8L441.9 223.4L442.8 220.6L443.8 217.0L444.7 212.4L445.6 207.9L446.5 203.2L447.4 197.8L448.4 192.7L449.3 188.6L450.2 182.3L451.1 176.9L452.0 171.2L452.9 167.0L453.9 162.1L454.8 156.5L455.7 152.5L456.6 148.1L457.5 145.8L458.4 142.5L459.4 139.2L460.3 137.9L461.2 135.6L462.1 134.1L463.0 133.2L464.0 132.1L464.9 131.6L465.8 131.7L466.7 131.1L467.6 130.5L468.5 131.6L469.5 130.5L470.4 130.2L471.3 130.1L472.2 130.7L473.1 130.9L474.1 130.7L475.0 131.1L475.9 130.3L476.8 130.9L477.7 131.1L478.6 131.6L479.6 132.1L480.5 131.4L481.4 134.0L482.3 132.8L483.2 134.1L484.2 135.2L485.1 136.3L486.0 137.1L486.9 136.9L487.8 138.9L488.7 141.0L489.7 141.6L490.6 143.0L491.5 143.9L492.4 146.8L493.3 147.8L494.3 148.6L495.2 150.2L496.1 151.5L497.0 152.4L497.9 154.0L498.8 155.5L499.8 156.9L500.7 158.5L501.6 159.2L502.5 160.3L503.4 161.9L504.3 162.7L505.3 163.7L506.2 165.9L507.1 166.5L508.0 168.0L508.9 169.5L509.9 170.0L510.8 171.9L511.7 173.1L512.6 174.1L513.5 175.5L514.4 176.2L515.4 176.7L516.3 178.7L517.2 179.5L518.1 181.4L519.0 182.2L520.0 182.9L520.9 184.1L521.8 185.6L522.7 186.5L523.6 187.0L524.5 187.9L525.5 188.5L526.4 189.3L527.3 190.5L528.2 191.0L529.1 191.9L530.1 192.1L531.0 192.7L531.9 193.5L532.8 194.7L533.7 196.2L534.6 196.9L535.6 196.7L536.5 197.2L537.4 198.9L538.3 199.4L539.2 199.4L540.2 201.1L541.1 201.4L542.0 202.7L542.9 203.0L543.8 204.1L544.7 204.6L545.7 204.9L546.6 206.0L547.5 206.6L548.4 208.0L549.3 207.9L550.2 208.4L551.2 210.0L552.1 210.9L553.0 211.7L553.9 212.2L554.8 211.8L555.8 212.8L556.7 213.5L557.6 214.4L558.5 214.1L559.4 215.6L560.3 216.3L561.3 216.3L562.2 217.3L563.1 218.2L564.0 218.3L564.9 219.2L565.9 219.6L566.8 219.9L567.7 220.3L568.6 220.5L569.5 221.6L570.4 221.4L571.4 221.7L572.3 222.8L573.2 222.7L574.1 223.7L575.0 224.4L576.0 224.5L576.9 225.0L577.8 225.8L578.7 226.2L579.6 225.7L580.5 226.2L581.5 227.8L582.4 227.8L583.3 227.2L584.2 227.9L585.1 228.9L586.1 228.9L587.0 229.9L587.9 230.1L588.8 230.6L589.7 230.3L590.6 231.3L591.6 232.2L592.5 231.3L593.4 232.4L594.3 232.5L595.2 232.6L596.1 232.6L597.1 232.3L598.0 232.7L598.9 233.6L599.8 233.8L600.7 234.1L601.7 234.2L602.6 234.3L603.5 233.9L604.4 233.8L605.3 234.5L606.2 234.8L607.2 234.7L608.1 234.2L609.0 234.8L609.9 234.5L610.8 235.3L611.8 235.0L612.7 235.5L613.6 235.9L614.5 235.9L615.4 236.6L616.3 235.7L617.3 235.4L618.2 236.9L619.1 237.3L620.0 237.4L620.9 237.1L621.9 237.4L622.8 237.3L623.7 236.9L624.6 237.3L625.5 237.9L626.4 237.6L627.4 238.8L628.3 237.4L629.2 238.0L630.1 238.8L631.0 238.2L632.0 238.1L632.9 238.1L633.8 238.4L634.7 239.5L635.6 239.1L636.5 239.3L637.5 238.9L638.4 239.6L639.3 239.4L640.2 239.1L641.1 239.4L642.0 239.7L643.0 240.2L643.9 239.8L644.8 240.1L645.7 240.9L646.6 239.8L647.6 239.6L648.5 240.7L649.4 240.5L650.3 240.4L651.2 240.6L652.1 240.4L653.1 240.8L654.0 240.5L654.9 241.1L655.8 240.3L656.7 240.5L657.7 240.9L658.6 240.7L659.5 241.3L660.4 241.0L661.3 240.8L662.2 241.2L663.2 240.9L664.1 240.5L665.0 240.7L665.9 240.9L666.8 241.1L667.8 241.4L668.7 241.7L669.6 241.6L670.5 242.2L671.4 242.0L672.3 241.4L673.3 242.2L674.2 242.1L675.1 241.4L676.0 241.7L676.9 242.1L677.9 241.8L678.8 242.1L679.7 241.9L680.6 242.0L681.5 241.6L682.4 241.9L683.4 241.7L684.3 242.1L685.2 241.1L686.1 242.0L687.0 242.4L687.9 242.1L688.9 241.9L689.8 242.1L690.7 241.6L691.6 241.6L692.5 241.8"/>
<path stroke="#22e022" d="M412.6 241.6L413.5 242.8L414.4 242.9L415.3 242.2L416.2 242.2L417.1 242.9L418.1 242.2L419.0 241.2L419.9 241.4L420.8 241.2L421.7 241.0L422.6 239.8L423.6 240.8L424.5 240.0L425.4 240.0L426.3 239.6L427.2 239.6L428.2 238.7L429.1 238.1L430.0 238.2L430.9 238.0L431.8 236.6L432.7 236.5L433.7 235.2L434.6 233.9L435.5 233.7L436.4 231.5L437.3 230.8L438.3 228.4L439.2 226.8L440.1 223.5L441.0 220.5L441.9 217.6L442.8 212.8L443.8 207.8L444.7 201.9L445.6 196.1L446.5 188.7L447.4 182.1L448.4 175.7L449.3 168.2L450.2 160.8L451.1 153.6L452.0 146.3L452.9 139.3L453.9 133.3L454.8 126.5L455.7 120.6L456.6 114.9L457.5 110.1L458.4 105.5L459.4 102.5L460.3 98.8L461.2 96.7L462.1 95.2L463.0 94.3L464.0 93.1L464.9 91.6L465.8 91.6L466.7 90.6L467.6 91.0L468.5 90.4L469.5 90.6L470.4 91.2L471.3 90.4L472.2 91.1L473.1 90.3L474.1 90.3L475.0 91.2L475.9 91.6L476.8 90.9L477.7 91.5L478.6 91.3L479.6 92.3L480.5 93.3L481.4 93.5L482.3 94.0L483.2 94.8L484.2 96.8L485.1 98.5L486.0 100.0L486.9 101.5L487.8 102.6L488.7 105.8L489.7 107.1L490.6 109.1L491.5 111.6L492.4 112.5L493.3 115.3L494.3 117.2L495.2 119.4L496.1 121.8L497.0 123.3L497.9 124.3L498.8 126.9L499.8 129.1L500.7 131.0L501.6 132.3L502.5 134.0L503.4 136.8L504.3 138.6L505.3 140.2L506.2 141.3L507.1 144.7L508.0 144.5L508.9 147.5L509.9 150.3L510.8 151.2L511.7 153.2L512.6 154.4L513.5 157.3L514.4 157.9L515.4 160.3L516.3 161.9L517.2 163.1L518.1 165.5L519.0 166.1L520.0 167.9L520.9 169.7L521.8 170.9L522.7 172.7L523.6 174.2L524.5 174.9L525.5 176.1L526.4 177.3L527.3 178.5L528.2 180.1L529.1 180.8L530.1 182.2L531.0 183.1L531.9 183.9L532.8 185.7L533.7 185.9L534.6 187.4L535.6 189.0L536.5 188.9L537.4 190.3L538.3 190.7L539.2 192.1L540.2 192.7L541.1 194.2L542.0 195.1L542.9 196.5L543.8 198.1L544.7 198.6L545.7 199.9L546.6 200.6L547.5 201.5L548.4 202.2L549.3 202.7L550.2 204.4L551.2 205.9L552.1 206.2L553.0 206.6L553.9 208.3L554.8 208.2L555.8 208.9L556.7 209.5L557.6 210.3L558.5 211.3L559.4 213.0L560.3 212.7L561.3 213.0L562.2 213.9L563.1 214.7L564.0 214.7L564.9 216.1L565.9 216.9L566.8 217.4L567.7 218.1L568.6 217.9L569.5 218.3L570.4 220.1L571.4 220.6L572.3 220.1L573.2 221.4L574.1 221.9L575.0 222.7L576.0 223.1L576.9 223.3L577.8 224.1L578.7 224.6L579.6 225.0L580.5 224.7L581.5 224.7L582.4 226.1L583.3 226.2L584.2 227.4L585.1 228.1L586.1 228.3L587.0 228.4L587.9 229.0L588.8 229.8L589.7 229.4L590.6 230.4L591.6 230.6L592.5 230.7L593.4 231.5L594.3 230.9L595.2 231.9L596.1 231.4L597.1 231.7L598.0 231.8L598.9 232.7L599.8 232.3L600.7 233.0L601.7 232.7L602.6 233.8L603.5 234.3L604.4 233.8L605.3 234.6L606.2 234.3L607.2 235.1L608.1 234.4L609.0 233.9L609.9 235.3L610.8 234.8L611.8 234.6L612.7 234.9L613.6 234.7L614.5 235.5L615.4 235.3L616.3 236.5L617.3 236.3L618.2 235.5L619.1 235.7L620.0 236.3L620.9 235.9L621.9 236.8L622.8 237.0L623.7 236.8L624.6 237.1L625.5 237.7L626.4 238.2L627.4 238.4L628.3 237.9L629.2 238.3L630.1 237.8L631.0 238.4L632.0 237.9L632.9 238.7L633.8 238.0L634.7 238.2L635.6 238.8L636.5 239.1L637.5 238.4L638.4 238.8L639.3 239.2L640.2 239.4L641.1 239.0L642.0 239.5L643.0 239.5L643.9 240.2L644.8 240.0L645.7 239.3L646.6 239.0L647.6 240.1L648.5 240.6L649.4 240.2L650.3 240.6L651.2 240.1L652.1 239.8L653.1 240.8L654.0 240.6L654.9 240.9L655.8 240.1L656.7 240.8L657.7 240.5L658.6 241.1L659.5 240.6L660.4 240.6L661.3 240.7L662.2 241.5L663.2 241.0L664.1 240.7L665.0 240.7L665.9 240.7L666.8 241.8L667.8 240.5L668.7 240.9L669.6 241.6L670.5 241.8L671.4 241.3L672.3 241.7L673.3 241.8L674.2 241.9L675.1 241.5L676.0 242.2L676.9 241.6L677.9 242.2L678.8 241.2L679.7 242.0L680.6 241.1L681.5 241.1L682.4 241.9L683.4 241.4L684.3 242.0L685.2 241.3L686.1 242.5L687.0 241.8L687.9 241.4L688.9 241.9L689.8 242.2L690.7 241.5L691.6 242.1L692.5 242.7"/>
<path stroke="#ff1a1a" d="M412.6 242.0L413.5 242.6L414.4 241.9L415.3 242.4L416.2 242.5L417.1 241.7L418.1 241.1L419.0 240.8L419.9 241.1L420.8 241.3L421.7 240.8L422.6 240.6L423.6 239.9L424.5 239.9L425.4 239.2L426.3 238.9L427.2 238.0L428.2 237.4L429.1 237.4L430.0 236.5L430.9 235.9L431.8 235.8L432.7 234.5L433.7 234.8L434.6 232.8L435.5 230.9L436.4 230.0L437.3 228.1L438.3 225.7L439.2 223.9L440.1 220.0L441.0 215.3L441.9 212.3L442.8 206.3L443.8 201.1L444.7 193.1L445.6 185.2L446.5 178.3L447.4 168.9L448.4 161.2L449.3 152.9L450.2 143.2L451.1 134.0L452.0 125.2L452.9 117.2L453.9 108.1L454.8 100.6L455.7 93.3L456.6 87.7L457.5 80.8L458.4 75.5L459.4 71.8L460.3 67.6L461.2 64.5L462.1 61.9L463.0 60.8L464.0 58.9L464.9 58.2L465.8 56.5L466.7 56.7L467.6 57.3L468.5 56.1L469.5 55.8L470.4 55.5L471.3 56.2L472.2 56.1L473.1 55.7L474.1 56.7L475.0 56.8L475.9 57.3L476.8 57.1L477.7 58.6L478.6 58.6L479.6 59.0L480.5 59.5L481.4 60.4L482.3 61.9L483.2 62.8L484.2 65.1L485.1 66.8L486.0 69.2L486.9 71.0L487.8 72.9L488.7 74.6L489.7 78.1L490.6 81.1L491.5 83.6L492.4 86.4L493.3 88.6L494.3 91.2L495.2 93.6L496.1 97.1L497.0 99.2L497.9 101.5L498.8 103.7L499.8 106.8L500.7 110.0L501.6 112.1L502.5 114.1L503.4 117.5L504.3 119.9L505.3 122.1L506.2 124.5L507.1 127.0L508.0 129.2L508.9 131.7L509.9 133.5L510.8 136.8L511.7 138.7L512.6 141.8L513.5 142.4L514.4 145.8L515.4 148.2L516.3 149.9L517.2 152.4L518.1 154.6L519.0 156.6L520.0 158.1L520.9 160.2L521.8 162.6L522.7 164.5L523.6 165.7L524.5 167.3L525.5 169.0L526.4 170.8L527.3 171.5L528.2 172.8L529.1 174.9L530.1 175.8L531.0 177.4L531.9 179.0L532.8 180.5L533.7 181.2L534.6 183.2L535.6 183.4L536.5 185.7L537.4 186.0L538.3 187.4L539.2 189.4L540.2 190.2L541.1 191.3L542.0 192.7L542.9 194.4L543.8 195.4L544.7 196.7L545.7 198.4L546.6 198.9L547.5 200.2L548.4 201.3L549.3 203.0L550.2 203.9L551.2 205.0L552.1 205.4L553.0 206.2L553.9 207.4L554.8 207.7L555.8 209.0L556.7 209.8L557.6 210.0L558.5 211.0L559.4 211.7L560.3 213.3L561.3 214.4L562.2 214.0L563.1 214.8L564.0 214.6L564.9 216.3L565.9 216.9L566.8 217.2L567.7 218.6L568.6 218.3L569.5 219.5L570.4 220.3L571.4 220.3L572.3 221.8L573.2 222.5L574.1 222.1L575.0 222.7L576.0 224.1L576.9 224.3L577.8 224.4L578.7 225.3L579.6 225.8L580.5 226.2L581.5 227.1L582.4 227.3L583.3 228.3L584.2 228.6L585.1 228.7L586.1 229.2L587.0 229.7L587.9 229.8L588.8 229.3L589.7 230.5L590.6 230.5L591.6 231.4L592.5 231.1L593.4 231.6L594.3 231.8L595.2 232.6L596.1 232.3L597.1 232.3L598.0 232.8L598.9 232.8L599.8 233.3L600.7 233.4L601.7 233.7L602.6 234.6L603.5 233.9L604.4 234.2L605.3 234.3L606.2 234.9L607.2 234.3L608.1 234.7L609.0 235.1L609.9 235.5L610.8 235.4L611.8 235.4L612.7 235.4L613.6 236.2L614.5 236.7L615.4 236.4L616.3 236.5L617.3 236.8L618.2 236.4L619.1 236.8L620.0 236.9L620.9 237.3L621.9 237.3L622.8 237.0L623.7 238.1L624.6 238.5L625.5 237.8L626.4 238.2L627.4 238.2L628.3 238.6L629.2 237.7L630.1 239.2L631.0 238.4L632.0 239.2L632.9 238.8L633.8 238.7L634.7 238.9L635.6 239.4L636.5 238.8L637.5 239.1L638.4 239.1L639.3 238.7L640.2 240.1L641.1 239.9L642.0 239.7L643.0 240.3L643.9 239.5L644.8 239.9L645.7 240.8L646.6 240.5L647.6 239.2L648.5 238.9L649.4 239.9L650.3 240.8L651.2 240.3L652.1 240.4L653.1 240.8L654.0 240.3L654.9 240.8L655.8 241.1L656.7 241.0L657.7 241.0L658.6 240.6L659.5 241.2L660.4 240.8L661.3 241.6L662.2 242.1L663.2 240.8L664.1 240.2L665.0 241.0L665.9 241.4L666.8 241.7L667.8 241.7L668.7 241.0L669.6 241.0L670.5 241.9L671.4 241.0L672.3 241.9L673.3 241.4L674.2 241.8L675.1 241.8L676.0 241.9L676.9 241.9L677.9 241.2L678.8 241.8L679.7 241.7L680.6 241.8L681.5 242.2L682.4 241.6L683.4 241.5L684.3 241.5L685.2 241.7L686.1 242.1L687.0 241.5L687.9 242.3L688.9 242.0L689.8 241.8L690.7 241.3L691.6 242.0L692.5 242.2"/>
<path stroke="#1e1e1e" d="M412.6 243.1L413.5 241.1L414.4 242.2L415.3 241.7L416.2 241.5L417.1 241.5L418.1 240.5L419.0 241.0L419.9 240.5L420.8 242.1L421.7 240.5L422.6 239.9L423.6 239.5L424.5 239.0L425.4 238.4L426.3 238.2L427.2 238.0L428.2 237.2L429.1 237.0L430.0 235.8L430.9 235.1L431.8 234.8L432.7 233.3L433.7 231.7L434.6 230.5L435.5 229.3L436.4 228.2L437.3 225.2L438.3 222.9L439.2 220.5L440.1 216.0L441.0 211.8L441.9 206.8L442.8 200.3L443.8 192.7L444.7 184.6L445.6 173.9L446.5 165.9L447.4 155.3L448.4 145.2L449.3 135.5L450.2 124.9L451.1 113.5L452.0 102.8L452.9 93.4L453.9 83.4L454.8 74.4L455.7 65.4L456.6 57.6L457.5 51.2L458.4 44.6L459.4 39.1L460.3 35.3L461.2 31.2L462.1 27.8L463.0 25.7L464.0 24.8L464.9 22.6L465.8 23.1L466.7 22.4L467.6 21.1L468.5 21.4L469.5 20.7L470.4 21.2L471.3 20.0L472.2 20.6L473.1 21.5L474.1 22.0L475.0 20.9L475.9 22.0L476.8 22.8L477.7 23.0L478.6 24.6L479.6 24.2L480.5 25.7L481.4 26.1L482.3 28.3L483.2 29.4L484.2 31.3L485.1 33.1L486.0 37.0L486.9 39.1L487.8 41.7L488.7 44.9L489.7 47.7L490.6 50.6L491.5 53.9L492.4 57.1L493.3 61.2L494.3 63.1L495.2 66.6L496.1 69.9L497.0 73.2L497.9 76.5L498.8 78.9L499.8 81.8L500.7 85.6L501.6 89.2L502.5 92.0L503.4 94.8L504.3 97.6L505.3 100.7L506.2 103.4L507.1 106.8L508.0 109.0L508.9 112.3L509.9 115.1L510.8 118.3L511.7 121.1L512.6 124.9L513.5 127.3L514.4 130.0L515.4 131.3L516.3 134.7L517.2 137.2L518.1 140.3L519.0 141.6L520.0 145.4L520.9 147.7L521.8 149.0L522.7 151.3L523.6 153.4L524.5 155.8L525.5 157.9L526.4 160.4L527.3 161.2L528.2 163.4L529.1 164.9L530.1 167.2L531.0 168.5L531.9 170.4L532.8 170.9L533.7 172.9L534.6 174.1L535.6 176.6L536.5 177.8L537.4 178.9L538.3 180.3L539.2 182.1L540.2 183.1L541.1 184.5L542.0 186.6L542.9 189.0L543.8 189.3L544.7 190.7L545.7 191.9L546.6 193.3L547.5 195.4L548.4 196.9L549.3 197.8L550.2 199.1L551.2 200.1L552.1 201.1L553.0 201.4L553.9 202.8L554.8 204.0L555.8 204.5L556.7 205.5L557.6 206.2L558.5 207.3L559.4 208.6L560.3 209.0L561.3 209.9L562.2 211.2L563.1 212.0L564.0 213.3L564.9 212.6L565.9 214.6L566.8 214.9L567.7 215.9L568.6 217.0L569.5 217.8L570.4 218.5L571.4 218.9L572.3 220.2L573.2 220.1L574.1 220.8L575.0 221.8L576.0 221.9L576.9 223.6L577.8 223.7L578.7 224.8L579.6 224.4L580.5 224.7L581.5 225.4L582.4 226.1L583.3 226.0L584.2 226.8L585.1 227.1L586.1 228.2L587.0 227.6L587.9 228.7L588.8 228.3L589.7 228.6L590.6 229.0L591.6 229.2L592.5 230.1L593.4 230.8L594.3 230.7L595.2 231.2L596.1 232.0L597.1 231.7L598.0 231.9L598.9 232.0L599.8 231.7L600.7 233.0L601.7 232.1L602.6 233.4L603.5 233.3L604.4 234.0L605.3 233.8L606.2 233.6L607.2 234.3L608.1 234.2L609.0 234.5L609.9 234.8L610.8 234.9L611.8 235.1L612.7 235.0L613.6 235.4L614.5 234.8L615.4 235.8L616.3 235.5L617.3 236.7L618.2 236.9L619.1 235.7L620.0 236.7L620.9 236.8L621.9 236.6L622.8 237.4L623.7 237.1L624.6 236.7L625.5 237.5L626.4 237.6L627.4 237.9L628.3 237.4L629.2 238.3L630.1 238.5L631.0 237.8L632.0 238.1L632.9 238.5L633.8 238.4L634.7 239.5L635.6 238.9L636.5 238.5L637.5 238.7L638.4 239.1L639.3 240.2L640.2 239.2L641.1 239.5L642.0 239.7L643.0 239.6L643.9 240.6L644.8 239.5L645.7 240.2L646.6 240.0L647.6 240.3L648.5 239.6L649.4 240.9L650.3 240.2L651.2 240.3L652.1 240.0L653.1 240.1L654.0 240.7L654.9 241.0L655.8 240.9L656.7 241.2L657.7 241.0L658.6 240.8L659.5 241.2L660.4 241.1L661.3 240.8L662.2 241.2L663.2 241.5L664.1 241.1L665.0 240.9L665.9 241.4L666.8 241.9L667.8 241.1L668.7 241.2L669.6 241.2L670.5 241.8L671.4 240.6L672.3 241.5L673.3 241.9L674.2 241.1L675.1 242.1L676.0 241.7L676.9 241.3L677.9 241.6L678.8 240.9L679.7 241.4L680.6 242.4L681.5 241.3L682.4 242.5L683.4 241.7L684.3 242.1L685.2 241.8L686.1 240.8L687.0 241.5L687.9 241.9L688.9 241.3L689.8 241.2L690.7 242.0L691.6 241.6L692.5 241.1"/>
</g>
</svg>
</body></html>
